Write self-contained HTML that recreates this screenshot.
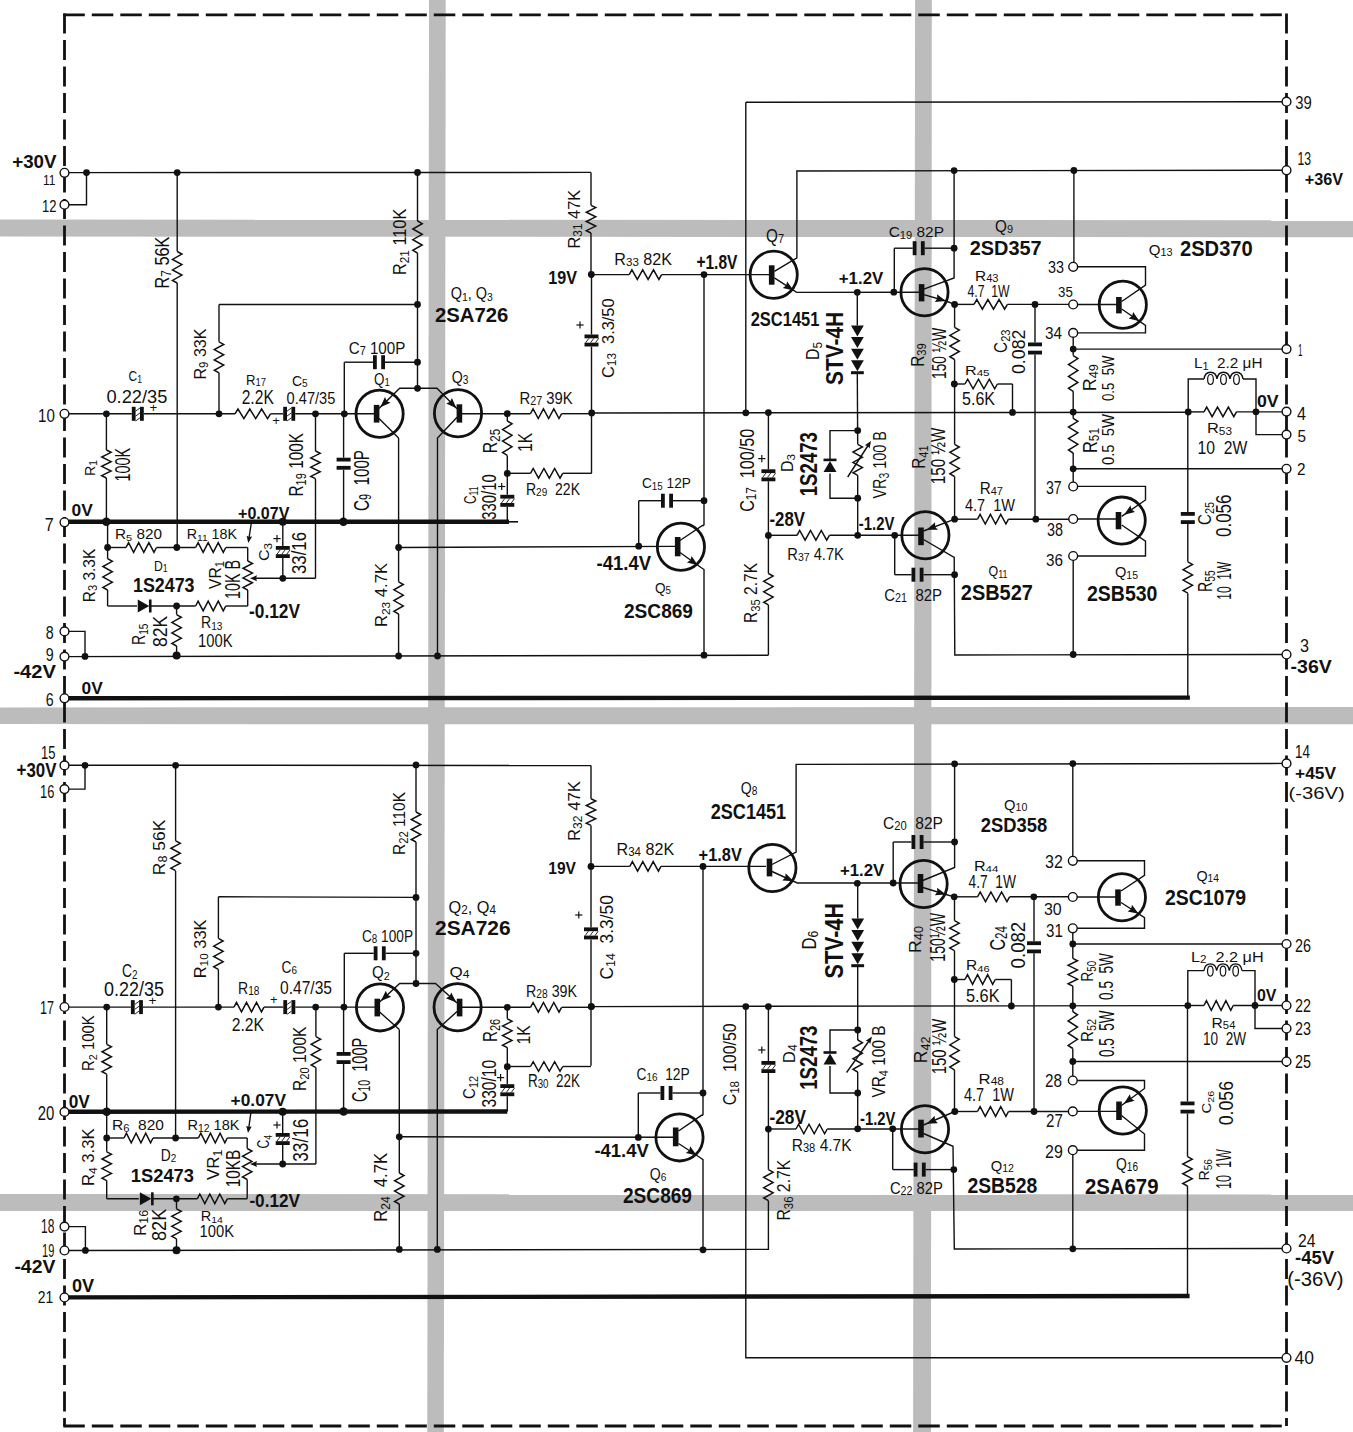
<!DOCTYPE html><html><head><meta charset="utf-8"><title>Schematic</title><style>html,body{margin:0;padding:0;background:#fff;}svg{display:block;}.d{fill:#111;stroke:none;}.n{fill:#fff;stroke:#111;stroke-width:1.4;}text{font-family:"Liberation Sans",sans-serif;}.t{font-weight:normal;}.b{font-weight:bold;}</style></head><body><svg width="1353" height="1432" viewBox="0 0 1353 1432"><polygon points="0,219.5 1353,220.2 1353,237.2 0,236.6" fill="#bcbcbc"/><polygon points="0,707.4 1353,707.0 1353,724.3 0,724.1" fill="#bcbcbc"/><polygon points="0,1193.9 1353,1194.5 1353,1211.0 0,1211.0" fill="#bcbcbc"/><polygon points="429.0,0 445.7,0 443.8,1432 427.3,1432" fill="#bcbcbc"/><polygon points="915.1,0 931.8,0 931.0,1432 913.1,1432" fill="#bcbcbc"/><g stroke="#111" fill="none" stroke-linecap="butt" stroke-linejoin="miter"><path d="M63.3,14.8 H1286.5" stroke-width="2.8" stroke-dasharray="21.5 7"/><path d="M64.5,13.600000000000001 V1426" stroke-width="2.8" stroke-dasharray="20 6.5"/><path d="M1286.5,13.600000000000001 V1426" stroke-width="2.8" stroke-dasharray="20 6.5"/><path d="M63.3,1426 H1287.7" stroke-width="2.8" stroke-dasharray="21.5 7"/><line x1="64.5" y1="172.6" x2="591" y2="172.4" stroke-width="1.4"/><line x1="591" y1="172.4" x2="591" y2="205.3" stroke-width="1.4"/><polyline points="591,205.3 595.7,207.61 586.3,212.23 595.7,216.84 586.3,221.46 595.7,226.07 586.3,230.69 591,233" stroke-width="1.5"/><line x1="591" y1="233" x2="591" y2="274.5" stroke-width="1.4"/><polyline points="64.5,204.7 86.5,204.7 86.5,172.6" stroke-width="1.4"/><circle cx="86.5" cy="172.6" r="3.4" class="d"/><line x1="177.2" y1="172.6" x2="177.2" y2="251.5" stroke-width="1.4"/><polyline points="177.2,251.5 181.9,254.12 172.5,259.38 181.9,264.62 172.5,269.88 181.9,275.12 172.5,280.38 177.2,283" stroke-width="1.5"/><line x1="177.2" y1="283" x2="177.2" y2="547.5" stroke-width="1.4"/><circle cx="177.2" cy="172.6" r="3.4" class="d"/><circle cx="176.8" cy="547.5" r="3.4" class="d"/><line x1="417.5" y1="172.5" x2="417.5" y2="221" stroke-width="1.4"/><polyline points="417.5,221 422.2,223.67 412.8,229 422.2,234.33 412.8,239.67 422.2,245 412.8,250.33 417.5,253" stroke-width="1.5"/><line x1="417.5" y1="253" x2="417.5" y2="388.3" stroke-width="1.4"/><circle cx="417.5" cy="172.5" r="3.4" class="d"/><circle cx="417.5" cy="304.5" r="3.4" class="d"/><circle cx="417.5" cy="362.2" r="3.4" class="d"/><circle cx="417.5" cy="388.3" r="3.4" class="d"/><line x1="219" y1="304.5" x2="219" y2="341.8" stroke-width="1.4"/><polyline points="219,341.8 223.7,344.38 214.3,349.55 223.7,354.72 214.3,359.88 223.7,365.05 214.3,370.22 219,372.8" stroke-width="1.5"/><line x1="219" y1="372.8" x2="219" y2="413.8" stroke-width="1.4"/><line x1="219" y1="304.5" x2="417.5" y2="304.5" stroke-width="1.4"/><circle cx="219" cy="413.8" r="3.4" class="d"/><rect x="373" y="355.2" width="3.8" height="14" class="d"/><rect x="381.2" y="355.2" width="3.8" height="14" class="d"/><line x1="344.3" y1="362.2" x2="373" y2="362.2" stroke-width="1.4"/><line x1="385" y1="362.2" x2="417.5" y2="362.2" stroke-width="1.4"/><line x1="344.3" y1="362.2" x2="344.3" y2="413.8" stroke-width="1.4"/><rect x="131.8" y="406.8" width="3.8" height="14" class="d"/><rect x="140" y="406.8" width="3.8" height="14" class="d"/><line x1="135.6" y1="411.2" x2="140" y2="408" stroke-width="0.9"/><line x1="135.6" y1="416.1" x2="140" y2="412.9" stroke-width="0.9"/><line x1="135.6" y1="421" x2="140" y2="417.8" stroke-width="0.9"/><line x1="64.5" y1="413.8" x2="131.8" y2="413.8" stroke-width="1.4"/><line x1="143.8" y1="413.8" x2="235" y2="413.8" stroke-width="1.4"/><polyline points="235,413.8 237.96,409 243.88,418.6 249.79,409 255.71,418.6 261.62,409 267.54,418.6 270.5,413.8" stroke-width="1.5"/><rect x="283.2" y="406.8" width="3.8" height="14" class="d"/><rect x="291.4" y="406.8" width="3.8" height="14" class="d"/><line x1="287" y1="411.2" x2="291.4" y2="408" stroke-width="0.9"/><line x1="287" y1="416.1" x2="291.4" y2="412.9" stroke-width="0.9"/><line x1="287" y1="421" x2="291.4" y2="417.8" stroke-width="0.9"/><line x1="270.5" y1="413.8" x2="283.2" y2="413.8" stroke-width="1.4"/><line x1="295.2" y1="413.8" x2="375" y2="413.8" stroke-width="1.4"/><circle cx="106.4" cy="413.8" r="3.4" class="d"/><circle cx="315.5" cy="413.8" r="3.4" class="d"/><circle cx="344.3" cy="413.8" r="3.4" class="d"/><line x1="106.4" y1="413.8" x2="106.4" y2="450" stroke-width="1.4"/><polyline points="106.4,450 111.1,452.33 101.7,457 111.1,461.67 101.7,466.33 111.1,471 101.7,475.67 106.4,478" stroke-width="1.5"/><line x1="106.4" y1="478" x2="106.4" y2="522.3" stroke-width="1.4"/><line x1="64.5" y1="521.8" x2="509" y2="521.8" stroke-width="4.4"/><line x1="509" y1="521.8" x2="518" y2="521.8" stroke-width="1.6"/><circle cx="106.3" cy="521.8" r="4.3" class="d"/><circle cx="282.8" cy="521.8" r="4" class="d"/><circle cx="343.4" cy="521.8" r="4.3" class="d"/><line x1="107.6" y1="521.8" x2="107.6" y2="558.7" stroke-width="1.4"/><polyline points="107.6,558.7 112.3,561.31 102.9,566.53 112.3,571.74 102.9,576.96 112.3,582.17 102.9,587.39 107.6,590" stroke-width="1.5"/><line x1="107.6" y1="590" x2="107.6" y2="606" stroke-width="1.4"/><circle cx="107.6" cy="547.5" r="3.4" class="d"/><line x1="107.6" y1="547.5" x2="126" y2="547.5" stroke-width="1.4"/><polyline points="126,547.5 128.54,542.7 133.62,552.3 138.71,542.7 143.79,552.3 148.88,542.7 153.96,552.3 156.5,547.5" stroke-width="1.5"/><line x1="156.5" y1="547.5" x2="195.6" y2="547.5" stroke-width="1.4"/><polyline points="195.6,547.5 198.12,542.7 203.15,552.3 208.18,542.7 213.22,552.3 218.25,542.7 223.28,552.3 225.8,547.5" stroke-width="1.5"/><line x1="225.8" y1="547.5" x2="247.7" y2="547.5" stroke-width="1.4"/><line x1="107.6" y1="606" x2="137" y2="606" stroke-width="1.4"/><line x1="150.5" y1="606" x2="195.6" y2="606" stroke-width="1.4"/><polyline points="195.6,606 198.12,601.2 203.15,610.8 208.18,601.2 213.22,610.8 218.25,601.2 223.28,610.8 225.8,606" stroke-width="1.5"/><line x1="225.8" y1="606" x2="247.7" y2="606" stroke-width="1.4"/><polygon points="137.75,599.5 137.75,612.5 149.25,606" class="d"/><rect x="148.95" y="599.5" width="2.6" height="13" class="d"/><circle cx="176.6" cy="606" r="3.4" class="d"/><line x1="247.7" y1="547.5" x2="247.7" y2="561" stroke-width="1.4"/><polyline points="247.7,561 252.4,563.42 243,568.25 252.4,573.08 243,577.92 252.4,582.75 243,587.58 247.7,590" stroke-width="1.5"/><line x1="247.7" y1="590" x2="247.7" y2="606" stroke-width="1.4"/><polygon points="250,578.2 257,575.2 256.02,578.2 257,581.2" class="d"/><line x1="254" y1="578.3" x2="315.5" y2="578.3" stroke-width="1.4"/><circle cx="282.8" cy="578.3" r="3.4" class="d"/><line x1="251.5" y1="522" x2="248.5" y2="541" stroke-width="1.4"/><polygon points="248.3,543 246.59,535.66 249.21,537.05 252.12,536.5" class="d"/><rect x="275.8" y="546" width="14" height="3.8" class="d"/><rect x="275.8" y="554.2" width="14" height="3.8" class="d"/><line x1="277" y1="554.2" x2="280.2" y2="549.8" stroke-width="0.9"/><line x1="281.9" y1="554.2" x2="285.1" y2="549.8" stroke-width="0.9"/><line x1="286.8" y1="554.2" x2="290" y2="549.8" stroke-width="0.9"/><line x1="282.8" y1="521.8" x2="282.8" y2="546" stroke-width="1.4"/><line x1="282.8" y1="558" x2="282.8" y2="578.3" stroke-width="1.4"/><line x1="315.5" y1="413.8" x2="315.5" y2="451" stroke-width="1.4"/><polyline points="315.5,451 320.2,453.31 310.8,457.93 320.2,462.54 310.8,467.16 320.2,471.77 310.8,476.39 315.5,478.7" stroke-width="1.5"/><line x1="315.5" y1="478.7" x2="315.5" y2="578.3" stroke-width="1.4"/><rect x="336.6" y="457.7" width="14" height="3.8" class="d"/><rect x="336.6" y="465.9" width="14" height="3.8" class="d"/><line x1="343.6" y1="413.8" x2="343.6" y2="457.7" stroke-width="1.4"/><line x1="343.6" y1="469.7" x2="343.6" y2="521.8" stroke-width="1.4"/><line x1="176.6" y1="606" x2="176.6" y2="614.6" stroke-width="1.4"/><polyline points="176.6,614.6 181.3,617.22 171.9,622.45 181.3,627.68 171.9,632.92 181.3,638.15 171.9,643.38 176.6,646" stroke-width="1.5"/><line x1="176.6" y1="646" x2="176.6" y2="655" stroke-width="1.4"/><circle cx="176.6" cy="655.4" r="4" class="d"/><polyline points="64.5,631.4 85,631.4 85,656.4" stroke-width="1.4"/><circle cx="85" cy="656.4" r="3.4" class="d"/><line x1="64.5" y1="656.6" x2="768.4" y2="655.2" stroke-width="1.4"/><line x1="64.5" y1="698.2" x2="1189.9" y2="697.6" stroke-width="4.4"/><circle cx="379.6" cy="413.7" r="23.6" fill="none" stroke-width="2.8"/><rect x="373.8" y="404.9" width="5.6" height="17.7" class="d"/><polyline points="379,408.4 399.7,388.3 437,388.3 457,408.8" stroke-width="1.4"/><polygon points="380.24,407.19 384.99,397.01 386.72,400.9 390.56,402.75" class="d"/><polygon points="456.4,408.19 446.2,403.46 450.09,401.72 451.93,397.88" class="d"/><line x1="379" y1="418.5" x2="398.6" y2="438" stroke-width="1.4"/><line x1="398.6" y1="438" x2="398.6" y2="581.8" stroke-width="1.4"/><polyline points="398.6,581.8 403.3,584.48 393.9,589.85 403.3,595.22 393.9,600.58 403.3,605.95 393.9,611.32 398.6,614" stroke-width="1.5"/><line x1="398.6" y1="614" x2="398.6" y2="656" stroke-width="1.4"/><circle cx="398.6" cy="547.5" r="3.4" class="d"/><circle cx="398.6" cy="656" r="3.4" class="d"/><circle cx="458" cy="413.3" r="23.6" fill="none" stroke-width="2.8"/><rect x="456.6" y="404.3" width="5.6" height="18.3" class="d"/><polyline points="457,417.3 437.5,438 437.5,656" stroke-width="1.4"/><circle cx="437.5" cy="656" r="3.4" class="d"/><line x1="461.5" y1="413.7" x2="530.5" y2="413.7" stroke-width="1.4"/><polyline points="530.5,413.7 533.09,408.9 538.27,418.5 543.46,408.9 548.64,418.5 553.83,408.9 559.01,418.5 561.6,413.7" stroke-width="1.5"/><line x1="561.6" y1="413.7" x2="591.7" y2="413.7" stroke-width="1.4"/><circle cx="507.3" cy="413.7" r="3.4" class="d"/><circle cx="591.7" cy="413" r="3.4" class="d"/><line x1="591.7" y1="413" x2="1188.2" y2="412.2" stroke-width="1.4"/><line x1="1188.2" y1="411.9" x2="1204" y2="411.9" stroke-width="1.4"/><polyline points="1204,411.9 1206.71,407.1 1212.12,416.7 1217.54,407.1 1222.96,416.7 1228.38,407.1 1233.79,416.7 1236.5,411.9" stroke-width="1.5"/><line x1="1236.5" y1="411.9" x2="1286.5" y2="411.9" stroke-width="1.4"/><line x1="507.3" y1="413.7" x2="507.3" y2="421" stroke-width="1.4"/><polyline points="507.3,421 512,423.87 502.6,429.6 512,435.33 502.6,441.07 512,446.8 502.6,452.53 507.3,455.4" stroke-width="1.5"/><rect x="500.3" y="494.8" width="14" height="3.8" class="d"/><rect x="500.3" y="503" width="14" height="3.8" class="d"/><line x1="501.5" y1="503" x2="504.7" y2="498.6" stroke-width="0.9"/><line x1="506.4" y1="503" x2="509.6" y2="498.6" stroke-width="0.9"/><line x1="511.3" y1="503" x2="514.5" y2="498.6" stroke-width="0.9"/><line x1="507.3" y1="455.4" x2="507.3" y2="494.8" stroke-width="1.4"/><line x1="507.3" y1="506.8" x2="507.3" y2="521.8" stroke-width="1.4"/><circle cx="507.3" cy="473.4" r="3.4" class="d"/><line x1="507.3" y1="473.3" x2="530.5" y2="473.3" stroke-width="1.4"/><polyline points="530.5,473.3 533.18,468.5 538.55,478.1 543.92,468.5 549.28,478.1 554.65,468.5 560.02,478.1 562.7,473.3" stroke-width="1.5"/><line x1="562.7" y1="473.3" x2="591.7" y2="473.3" stroke-width="1.4"/><rect x="584.5" y="334.5" width="14" height="3.8" class="d"/><rect x="584.5" y="342.7" width="14" height="3.8" class="d"/><line x1="585.7" y1="342.7" x2="588.9" y2="338.3" stroke-width="0.9"/><line x1="590.6" y1="342.7" x2="593.8" y2="338.3" stroke-width="0.9"/><line x1="595.5" y1="342.7" x2="598.7" y2="338.3" stroke-width="0.9"/><line x1="591.5" y1="274.5" x2="591.5" y2="334.5" stroke-width="1.4"/><line x1="591.5" y1="346.5" x2="591.5" y2="473.3" stroke-width="1.4"/><circle cx="591.3" cy="274.5" r="3.4" class="d"/><line x1="591.3" y1="274.6" x2="629.2" y2="274.6" stroke-width="1.4"/><polyline points="629.2,274.6 631.9,269.8 637.3,279.4 642.7,269.8 648.1,279.4 653.5,269.8 658.9,279.4 661.6,274.6" stroke-width="1.5"/><line x1="661.6" y1="274.6" x2="769.5" y2="274.6" stroke-width="1.4"/><circle cx="704" cy="274.6" r="3.4" class="d"/><line x1="704" y1="274.6" x2="704" y2="525.5" stroke-width="1.4"/><circle cx="704" cy="500.7" r="3.4" class="d"/><rect x="661" y="493.7" width="3.8" height="14" class="d"/><rect x="669.2" y="493.7" width="3.8" height="14" class="d"/><line x1="638.7" y1="500.7" x2="661" y2="500.7" stroke-width="1.4"/><line x1="673" y1="500.7" x2="704" y2="500.7" stroke-width="1.4"/><line x1="638.7" y1="500.7" x2="638.7" y2="546.2" stroke-width="1.4"/><circle cx="638.7" cy="546.2" r="3.4" class="d"/><line x1="398.6" y1="547.5" x2="675" y2="546.4" stroke-width="1.4"/><circle cx="680.9" cy="546.7" r="23.6" fill="none" stroke-width="2.8"/><rect x="674.9" y="537" width="5.6" height="19.3" class="d"/><polyline points="680,540.5 702.5,525.5 704,525.5" stroke-width="1.4"/><polyline points="680,552.5 701,567.5 704,569.5 704,655.2" stroke-width="1.4"/><circle cx="704" cy="655.2" r="3.4" class="d"/><polygon points="697.85,565.25 686.98,562.4 690.5,560 691.63,555.89" class="d"/><line x1="745.8" y1="102.2" x2="745.8" y2="412.8" stroke-width="1.4"/><line x1="745.8" y1="102.2" x2="1286.5" y2="101.7" stroke-width="1.4"/><circle cx="745.8" cy="412.8" r="3.4" class="d"/><rect x="761.4" y="469.3" width="14" height="3.8" class="d"/><rect x="761.4" y="477.5" width="14" height="3.8" class="d"/><line x1="762.6" y1="477.5" x2="765.8" y2="473.1" stroke-width="0.9"/><line x1="767.5" y1="477.5" x2="770.7" y2="473.1" stroke-width="0.9"/><line x1="772.4" y1="477.5" x2="775.6" y2="473.1" stroke-width="0.9"/><line x1="768.4" y1="412.6" x2="768.4" y2="469.3" stroke-width="1.4"/><line x1="768.4" y1="481.3" x2="768.4" y2="573.5" stroke-width="1.4"/><polyline points="768.4,573.5 773.1,576.12 763.7,581.35 773.1,586.58 763.7,591.82 773.1,597.05 763.7,602.28 768.4,604.9" stroke-width="1.5"/><line x1="768.4" y1="604.9" x2="768.4" y2="655.2" stroke-width="1.4"/><circle cx="768.4" cy="412.6" r="3.4" class="d"/><circle cx="768.4" cy="535.5" r="3.4" class="d"/><line x1="768.4" y1="535.3" x2="797" y2="535.3" stroke-width="1.4"/><polyline points="797,535.3 799.7,530.5 805.1,540.1 810.5,530.5 815.9,540.1 821.3,530.5 826.7,540.1 829.4,535.3" stroke-width="1.5"/><line x1="829.4" y1="535.3" x2="920" y2="535.3" stroke-width="1.4"/><circle cx="857.7" cy="535.3" r="3.4" class="d"/><circle cx="894.7" cy="535.3" r="3.4" class="d"/><circle cx="773.7" cy="274.8" r="23.6" fill="none" stroke-width="2.8"/><rect x="768.9" y="265.3" width="5.6" height="19.4" class="d"/><polyline points="774.4,271.3 796.9,257.8 796.9,171 1286.5,170.2" stroke-width="1.4"/><circle cx="954.1" cy="170.6" r="3.4" class="d"/><circle cx="1073.9" cy="170.5" r="3.4" class="d"/><polyline points="774.4,277.8 796.6,292.4 921,292.2" stroke-width="1.4"/><polygon points="793.71,290.5 782.74,288.07 786.17,285.54 787.14,281.39" class="d"/><circle cx="857.3" cy="292.3" r="3.4" class="d"/><circle cx="893.8" cy="292.2" r="3.4" class="d"/><rect x="912.7" y="241.2" width="3.8" height="14" class="d"/><rect x="920.9" y="241.2" width="3.8" height="14" class="d"/><line x1="894.3" y1="248.2" x2="912.7" y2="248.2" stroke-width="1.4"/><line x1="924.7" y1="248.2" x2="954.1" y2="248.2" stroke-width="1.4"/><line x1="894.3" y1="248.2" x2="894.3" y2="292.2" stroke-width="1.4"/><circle cx="954.1" cy="248.2" r="3.4" class="d"/><polyline points="954.1,170.6 954.1,278 923.8,289.1" stroke-width="1.4"/><circle cx="924.5" cy="292.2" r="23.6" fill="none" stroke-width="2.8"/><rect x="918.8" y="284.1" width="5.6" height="17.3" class="d"/><polyline points="923.8,294.7 946,301 954.6,304.4" stroke-width="1.4"/><polygon points="946,301 934.81,301.98 937.31,298.53 936.99,294.29" class="d"/><line x1="857.3" y1="292.3" x2="857.3" y2="325.5" stroke-width="1.4"/><line x1="857.3" y1="373" x2="857.7" y2="444.3" stroke-width="1.4"/><line x1="857.7" y1="475.3" x2="857.7" y2="535.3" stroke-width="1.4"/><polygon points="851,325.5 863.8,325.5 857.4,336.5" class="d"/><polygon points="851,337.1 863.8,337.1 857.4,348.1" class="d"/><polygon points="851,348.7 863.8,348.7 857.4,359.7" class="d"/><polygon points="851,360.3 863.8,360.3 857.4,371.3" class="d"/><rect x="851" y="371.2" width="12.8" height="3" class="d"/><polyline points="857.7,430.6 830,430.6 830,459.5" stroke-width="1.4"/><polyline points="830,473.5 830,498.2 857.7,498.2" stroke-width="1.4"/><polygon points="823.5,471.9 836.5,471.9 830,460.9" class="d"/><rect x="823.5" y="458.6" width="13" height="2.6" class="d"/><circle cx="857.7" cy="430.6" r="3.4" class="d"/><circle cx="857.7" cy="498.2" r="3.4" class="d"/><polyline points="857.7,444.3 862.4,446.88 853,452.05 862.4,457.22 853,462.38 862.4,467.55 853,472.72 857.7,475.3" stroke-width="1.5"/><line x1="847.7" y1="477" x2="869" y2="444" stroke-width="1.4"/><polygon points="871,441 869.55,448.4 867.73,446.05 864.85,445.36" class="d"/><line x1="954.6" y1="304.4" x2="974" y2="304.4" stroke-width="1.4"/><polyline points="974,304.4 976.78,299.6 982.35,309.2 987.92,299.6 993.48,309.2 999.05,299.6 1004.62,309.2 1007.4,304.4" stroke-width="1.5"/><line x1="1007.4" y1="304.4" x2="1073.2" y2="304.4" stroke-width="1.4"/><circle cx="954.6" cy="304.4" r="3.4" class="d"/><circle cx="1035" cy="304.4" r="3.4" class="d"/><line x1="954.6" y1="304.4" x2="954.6" y2="327.4" stroke-width="1.4"/><polyline points="954.6,327.4 959.3,330.07 949.9,335.42 959.3,340.77 949.9,346.12 959.3,351.48 949.9,356.82 954.6,359.5" stroke-width="1.5"/><line x1="954.6" y1="359.5" x2="954.6" y2="444.3" stroke-width="1.4"/><polyline points="954.6,444.3 959.3,446.98 949.9,452.35 959.3,457.72 949.9,463.08 959.3,468.45 949.9,473.82 954.6,476.5" stroke-width="1.5"/><line x1="954.6" y1="476.5" x2="954.6" y2="519.2" stroke-width="1.4"/><circle cx="954.3" cy="384" r="3.4" class="d"/><line x1="954.3" y1="384" x2="965" y2="384" stroke-width="1.4"/><polyline points="965,384 967.7,379.2 973.1,388.8 978.5,379.2 983.9,388.8 989.3,379.2 994.7,388.8 997.4,384" stroke-width="1.5"/><line x1="997.4" y1="384" x2="1012.5" y2="384" stroke-width="1.4"/><line x1="1012.5" y1="384" x2="1012.5" y2="412.4" stroke-width="1.4"/><circle cx="1012.5" cy="412.4" r="3.4" class="d"/><rect x="1028" y="342.5" width="14" height="3.8" class="d"/><rect x="1028" y="350.7" width="14" height="3.8" class="d"/><line x1="1035" y1="304.4" x2="1035" y2="342.5" stroke-width="1.4"/><line x1="1035" y1="354.5" x2="1035" y2="519.2" stroke-width="1.4"/><line x1="1073.9" y1="170.5" x2="1073.9" y2="266.8" stroke-width="1.4"/><polyline points="1073.9,266.8 1145.5,266.8 1145.5,285.2 1121.7,301.5" stroke-width="1.4"/><circle cx="1122.8" cy="304.7" r="23.6" fill="none" stroke-width="2.8"/><rect x="1116.1" y="297" width="5.6" height="16.4" class="d"/><line x1="1073.2" y1="304.5" x2="1117" y2="304.5" stroke-width="1.4"/><polyline points="1121.7,309 1145.5,325.3 1145.5,332.9 1073.2,332.9" stroke-width="1.4"/><polygon points="1139.55,321.23 1128.63,318.59 1132.1,316.12 1133.15,311.99" class="d"/><line x1="1073.2" y1="332.9" x2="1073.2" y2="355.6" stroke-width="1.4"/><polyline points="1073.2,355.6 1077.9,358.58 1068.5,364.53 1077.9,370.48 1068.5,376.43 1077.9,382.38 1068.5,388.32 1073.2,391.3" stroke-width="1.5"/><line x1="1073.2" y1="391.3" x2="1073.2" y2="418.4" stroke-width="1.4"/><polyline points="1073.2,418.4 1077.9,421.28 1068.5,427.05 1077.9,432.82 1068.5,438.58 1077.9,444.35 1068.5,450.12 1073.2,453" stroke-width="1.5"/><line x1="1073.2" y1="453" x2="1073.2" y2="486.5" stroke-width="1.4"/><circle cx="1073.2" cy="349.1" r="3.4" class="d"/><circle cx="1073.2" cy="412.1" r="3.4" class="d"/><circle cx="1073.2" cy="468.8" r="3.4" class="d"/><line x1="1073.2" y1="349.1" x2="1286.5" y2="349.1" stroke-width="1.4"/><line x1="1073.2" y1="468.8" x2="1286.5" y2="468.8" stroke-width="1.4"/><circle cx="925.4" cy="535.2" r="23.6" fill="none" stroke-width="2.8"/><rect x="918.2" y="527.5" width="5.6" height="17.7" class="d"/><line x1="923.5" y1="531" x2="954.8" y2="519.2" stroke-width="1.4"/><polygon points="926.63,529.82 935.04,522.37 935.08,526.63 937.87,529.86" class="d"/><polyline points="923.5,539.5 954.2,557.4 954.8,655 1286.5,654.5" stroke-width="1.4"/><circle cx="1073.2" cy="654.5" r="3.4" class="d"/><line x1="894.7" y1="535.3" x2="894.7" y2="574.7" stroke-width="1.4"/><rect x="911.5" y="567.7" width="3.8" height="14" class="d"/><rect x="919.7" y="567.7" width="3.8" height="14" class="d"/><line x1="894.7" y1="574.7" x2="911.5" y2="574.7" stroke-width="1.4"/><line x1="923.5" y1="574.7" x2="954.6" y2="574.7" stroke-width="1.4"/><circle cx="954.6" cy="574.7" r="3.4" class="d"/><line x1="954.6" y1="519.2" x2="977.5" y2="519.2" stroke-width="1.4"/><polyline points="977.5,519.2 980.08,514.4 985.25,524 990.42,514.4 995.58,524 1000.75,514.4 1005.92,524 1008.5,519.2" stroke-width="1.5"/><line x1="1008.5" y1="519.2" x2="1073.2" y2="519.2" stroke-width="1.4"/><circle cx="954.6" cy="519.2" r="3.4" class="d"/><circle cx="1035.8" cy="519.2" r="3.4" class="d"/><polyline points="1073.2,486.4 1145.5,486.4 1145.5,500 1121.7,516.3" stroke-width="1.4"/><polygon points="1124.08,514.67 1130.48,505.44 1131.53,509.57 1135,512.04" class="d"/><circle cx="1121.7" cy="520.6" r="23.6" fill="none" stroke-width="2.8"/><rect x="1115.7" y="512" width="5.6" height="17.3" class="d"/><line x1="1073.2" y1="519" x2="1116" y2="519" stroke-width="1.4"/><polyline points="1121.7,525 1145.5,541.2 1145.5,556 1073.2,556" stroke-width="1.4"/><line x1="1073.2" y1="556" x2="1073.2" y2="654.5" stroke-width="1.4"/><circle cx="1188.2" cy="412" r="3.4" class="d"/><circle cx="1256" cy="411.8" r="3.4" class="d"/><polyline points="1188.2,412 1188.2,379 1204,379" stroke-width="1.4"/><path d="M1204,379 C1205.3,370 1215.7,370 1217,379 C1218.3,370 1228.7,370 1230,379 C1231.3,370 1241.7,370 1243,379" fill="none" stroke-width="1.4"/><ellipse cx="1210.5" cy="379.5" rx="2.86" ry="5" fill="none" stroke-width="1.2"/><ellipse cx="1223.5" cy="379.5" rx="2.86" ry="5" fill="none" stroke-width="1.2"/><ellipse cx="1236.5" cy="379.5" rx="2.86" ry="5" fill="none" stroke-width="1.2"/><polyline points="1243,379 1256,379 1256,411.8" stroke-width="1.4"/><polyline points="1256,411.8 1256,434.6 1286.5,434.6" stroke-width="1.4"/><rect x="1180.8" y="512" width="14" height="3.8" class="d"/><rect x="1180.8" y="520.2" width="14" height="3.8" class="d"/><line x1="1187.8" y1="412" x2="1187.8" y2="512" stroke-width="1.4"/><line x1="1187.8" y1="524" x2="1187.8" y2="561.8" stroke-width="1.4"/><polyline points="1187.8,561.8 1192.5,564.42 1183.1,569.65 1192.5,574.88 1183.1,580.12 1192.5,585.35 1183.1,590.58 1187.8,593.2" stroke-width="1.5"/><line x1="1187.8" y1="593.2" x2="1187.8" y2="697.6" stroke-width="1.4"/><line x1="576.4" y1="325" x2="583.6" y2="325" stroke-width="1.2"/><line x1="580" y1="321.4" x2="580" y2="328.6" stroke-width="1.2"/><line x1="758.2" y1="458.6" x2="765.4" y2="458.6" stroke-width="1.2"/><line x1="761.8" y1="455" x2="761.8" y2="462.2" stroke-width="1.2"/><line x1="498.1" y1="486.5" x2="505.3" y2="486.5" stroke-width="1.2"/><line x1="501.7" y1="482.9" x2="501.7" y2="490.1" stroke-width="1.2"/><line x1="273.4" y1="538.6" x2="280.6" y2="538.6" stroke-width="1.2"/><line x1="277" y1="535" x2="277" y2="542.2" stroke-width="1.2"/><line x1="64.5" y1="765.2" x2="591" y2="765.5" stroke-width="1.4"/><line x1="591" y1="765.5" x2="591" y2="798.8" stroke-width="1.4"/><polyline points="591,798.8 595.7,801.02 586.3,805.45 595.7,809.88 586.3,814.32 595.7,818.75 586.3,823.18 591,825.4" stroke-width="1.5"/><rect x="584" y="927.4" width="14" height="3.8" class="d"/><rect x="584" y="935.6" width="14" height="3.8" class="d"/><line x1="585.2" y1="935.6" x2="588.4" y2="931.2" stroke-width="0.9"/><line x1="590.1" y1="935.6" x2="593.3" y2="931.2" stroke-width="0.9"/><line x1="595" y1="935.6" x2="598.2" y2="931.2" stroke-width="0.9"/><line x1="591" y1="825.4" x2="591" y2="927.4" stroke-width="1.4"/><line x1="591" y1="939.4" x2="591" y2="1065.8" stroke-width="1.4"/><circle cx="591" cy="866.4" r="3.4" class="d"/><circle cx="591.3" cy="1006.6" r="3.4" class="d"/><polyline points="64.5,789.1 85,789.1 85,765.3" stroke-width="1.4"/><circle cx="85" cy="765.3" r="3.4" class="d"/><line x1="175.6" y1="765.3" x2="175.6" y2="840.8" stroke-width="1.4"/><polyline points="175.6,840.8 180.3,843.29 170.9,848.27 180.3,853.26 170.9,858.24 180.3,863.23 170.9,868.21 175.6,870.7" stroke-width="1.5"/><line x1="175.6" y1="870.7" x2="175.6" y2="1138" stroke-width="1.4"/><circle cx="175.6" cy="765.3" r="3.4" class="d"/><circle cx="175.6" cy="1138" r="3.4" class="d"/><line x1="416" y1="764.9" x2="416" y2="812" stroke-width="1.4"/><polyline points="416,812 420.7,814.5 411.3,819.5 420.7,824.5 411.3,829.5 420.7,834.5 411.3,839.5 416,842" stroke-width="1.5"/><line x1="416" y1="842" x2="416" y2="983.5" stroke-width="1.4"/><circle cx="416" cy="764.9" r="3.4" class="d"/><circle cx="416" cy="897.4" r="3.4" class="d"/><circle cx="416" cy="953.3" r="3.4" class="d"/><circle cx="416" cy="983.5" r="3.4" class="d"/><line x1="218.4" y1="896.8" x2="218.4" y2="938.4" stroke-width="1.4"/><polyline points="218.4,938.4 223.1,940.98 213.7,946.15 223.1,951.32 213.7,956.48 223.1,961.65 213.7,966.82 218.4,969.4" stroke-width="1.5"/><line x1="218.4" y1="969.4" x2="218.4" y2="1007.1" stroke-width="1.4"/><line x1="218.4" y1="896.8" x2="416" y2="897.4" stroke-width="1.4"/><circle cx="218.4" cy="1007.1" r="3.4" class="d"/><rect x="373.7" y="946.3" width="3.8" height="14" class="d"/><rect x="381.9" y="946.3" width="3.8" height="14" class="d"/><line x1="344.3" y1="953.3" x2="373.7" y2="953.3" stroke-width="1.4"/><line x1="385.7" y1="953.3" x2="416" y2="953.3" stroke-width="1.4"/><line x1="344.3" y1="953.3" x2="344.3" y2="1007.1" stroke-width="1.4"/><rect x="130.9" y="1000.1" width="3.8" height="14" class="d"/><rect x="139.1" y="1000.1" width="3.8" height="14" class="d"/><line x1="134.7" y1="1004.5" x2="139.1" y2="1001.3" stroke-width="0.9"/><line x1="134.7" y1="1009.4" x2="139.1" y2="1006.2" stroke-width="0.9"/><line x1="134.7" y1="1014.3" x2="139.1" y2="1011.1" stroke-width="0.9"/><line x1="64.5" y1="1007.1" x2="130.9" y2="1007.1" stroke-width="1.4"/><line x1="142.9" y1="1007.1" x2="234" y2="1007.1" stroke-width="1.4"/><polyline points="234,1007.1 236.5,1002.3 241.5,1011.9 246.5,1002.3 251.5,1011.9 256.5,1002.3 261.5,1011.9 264,1007.1" stroke-width="1.5"/><rect x="283.3" y="1000.1" width="3.8" height="14" class="d"/><rect x="291.5" y="1000.1" width="3.8" height="14" class="d"/><line x1="287.1" y1="1004.5" x2="291.5" y2="1001.3" stroke-width="0.9"/><line x1="287.1" y1="1009.4" x2="291.5" y2="1006.2" stroke-width="0.9"/><line x1="287.1" y1="1014.3" x2="291.5" y2="1011.1" stroke-width="0.9"/><line x1="264" y1="1007.1" x2="283.3" y2="1007.1" stroke-width="1.4"/><line x1="295.3" y1="1007.1" x2="375.5" y2="1007.1" stroke-width="1.4"/><circle cx="106.7" cy="1007.1" r="3.4" class="d"/><circle cx="315.7" cy="1007.1" r="3.4" class="d"/><circle cx="343.9" cy="1007.1" r="3.4" class="d"/><line x1="106.7" y1="1007.1" x2="106.7" y2="1044.3" stroke-width="1.4"/><polyline points="106.7,1044.3 111.4,1046.79 102,1051.78 111.4,1056.76 102,1061.74 111.4,1066.72 102,1071.71 106.7,1074.2" stroke-width="1.5"/><line x1="106.7" y1="1074.2" x2="106.7" y2="1111.7" stroke-width="1.4"/><line x1="64.5" y1="1111.7" x2="507.3" y2="1111.5" stroke-width="4.4"/><circle cx="106.7" cy="1111.7" r="4.3" class="d"/><circle cx="282.7" cy="1111.7" r="4" class="d"/><circle cx="343.6" cy="1111.5" r="4.3" class="d"/><line x1="106.7" y1="1111.7" x2="106.7" y2="1151.8" stroke-width="1.4"/><polyline points="106.7,1151.8 111.4,1154.2 102,1159 111.4,1163.8 102,1168.6 111.4,1173.4 102,1178.2 106.7,1180.6" stroke-width="1.5"/><line x1="106.7" y1="1180.6" x2="106.7" y2="1198.8" stroke-width="1.4"/><circle cx="106.7" cy="1138" r="3.4" class="d"/><line x1="106.7" y1="1138" x2="124" y2="1138" stroke-width="1.4"/><polyline points="124,1138 126.42,1133.2 131.25,1142.8 136.08,1133.2 140.92,1142.8 145.75,1133.2 150.58,1142.8 153,1138" stroke-width="1.5"/><line x1="153" y1="1138" x2="198.4" y2="1138" stroke-width="1.4"/><polyline points="198.4,1138 200.81,1133.2 205.62,1142.8 210.44,1133.2 215.26,1142.8 220.08,1133.2 224.89,1142.8 227.3,1138" stroke-width="1.5"/><line x1="227.3" y1="1138" x2="247.2" y2="1138" stroke-width="1.4"/><line x1="106.7" y1="1198.8" x2="138.8" y2="1198.8" stroke-width="1.4"/><line x1="152.4" y1="1198.8" x2="197.3" y2="1198.8" stroke-width="1.4"/><polyline points="197.3,1198.8 199.8,1194 204.8,1203.6 209.8,1194 214.8,1203.6 219.8,1194 224.8,1203.6 227.3,1198.8" stroke-width="1.5"/><line x1="227.3" y1="1198.8" x2="247.2" y2="1198.8" stroke-width="1.4"/><polygon points="139.85,1192.3 139.85,1205.3 151.35,1198.8" class="d"/><rect x="151.05" y="1192.3" width="2.6" height="13" class="d"/><circle cx="176.4" cy="1198.8" r="3.4" class="d"/><line x1="247.2" y1="1138" x2="247.2" y2="1148.5" stroke-width="1.4"/><polyline points="247.2,1148.5 251.9,1151.08 242.5,1156.25 251.9,1161.42 242.5,1166.58 251.9,1171.75 242.5,1176.92 247.2,1179.5" stroke-width="1.5"/><line x1="247.2" y1="1179.5" x2="247.2" y2="1198.8" stroke-width="1.4"/><polygon points="250,1164 257,1161 256.02,1164 257,1167" class="d"/><line x1="254" y1="1164" x2="315.9" y2="1164" stroke-width="1.4"/><circle cx="282.7" cy="1164" r="3.4" class="d"/><line x1="251" y1="1112" x2="248.3" y2="1131" stroke-width="1.4"/><polygon points="248,1133 246.22,1125.67 248.85,1127.04 251.76,1126.47" class="d"/><rect x="275.7" y="1133" width="14" height="3.8" class="d"/><rect x="275.7" y="1141.2" width="14" height="3.8" class="d"/><line x1="276.9" y1="1141.2" x2="280.1" y2="1136.8" stroke-width="0.9"/><line x1="281.8" y1="1141.2" x2="285" y2="1136.8" stroke-width="0.9"/><line x1="286.7" y1="1141.2" x2="289.9" y2="1136.8" stroke-width="0.9"/><line x1="282.7" y1="1111.7" x2="282.7" y2="1133" stroke-width="1.4"/><line x1="282.7" y1="1145" x2="282.7" y2="1164" stroke-width="1.4"/><line x1="315.9" y1="1007.1" x2="315.9" y2="1036.6" stroke-width="1.4"/><polyline points="315.9,1036.6 320.6,1039.18 311.2,1044.35 320.6,1049.52 311.2,1054.68 320.6,1059.85 311.2,1065.02 315.9,1067.6" stroke-width="1.5"/><line x1="315.9" y1="1067.6" x2="315.9" y2="1164" stroke-width="1.4"/><rect x="336.6" y="1052" width="14" height="3.8" class="d"/><rect x="336.6" y="1060.2" width="14" height="3.8" class="d"/><line x1="343.6" y1="1007.1" x2="343.6" y2="1052" stroke-width="1.4"/><line x1="343.6" y1="1064" x2="343.6" y2="1111.5" stroke-width="1.4"/><line x1="176.5" y1="1198.8" x2="176.5" y2="1208.8" stroke-width="1.4"/><polyline points="176.5,1208.8 181.2,1211.3 171.8,1216.3 181.2,1221.3 171.8,1226.3 181.2,1231.3 171.8,1236.3 176.5,1238.8" stroke-width="1.5"/><line x1="176.5" y1="1238.8" x2="176.5" y2="1250.3" stroke-width="1.4"/><circle cx="176.5" cy="1250.3" r="4" class="d"/><polyline points="64.5,1226.6 85.4,1226.6 85.4,1250.4" stroke-width="1.4"/><circle cx="85.4" cy="1250.4" r="3.4" class="d"/><line x1="64.5" y1="1250.5" x2="769" y2="1249.4" stroke-width="1.4"/><line x1="64.5" y1="1297.4" x2="1189.6" y2="1296" stroke-width="4.4"/><circle cx="380" cy="1007.4" r="23.6" fill="none" stroke-width="2.8"/><rect x="374.5" y="998.7" width="5.6" height="17.7" class="d"/><polyline points="379.6,1002 399.7,983.5 435.5,983.5 457,1003" stroke-width="1.4"/><polygon points="380.81,1000.89 385.82,990.84 387.45,994.77 391.24,996.72" class="d"/><polygon points="456.36,1002.41 445.89,998.32 449.67,996.35 451.26,992.4" class="d"/><line x1="379.6" y1="1012" x2="399.3" y2="1029.5" stroke-width="1.4"/><line x1="399.3" y1="1029.5" x2="399.3" y2="1173" stroke-width="1.4"/><polyline points="399.3,1173 404,1175.58 394.6,1180.75 404,1185.92 394.6,1191.08 404,1196.25 394.6,1201.42 399.3,1204" stroke-width="1.5"/><line x1="399.3" y1="1204" x2="399.3" y2="1249.4" stroke-width="1.4"/><circle cx="399.3" cy="1136.8" r="3.4" class="d"/><circle cx="399.3" cy="1249.4" r="3.4" class="d"/><circle cx="457.6" cy="1007.3" r="23.6" fill="none" stroke-width="2.8"/><rect x="456.8" y="998.7" width="5.6" height="17.7" class="d"/><polyline points="457,1011.5 437.3,1029.5 437.3,1249.4" stroke-width="1.4"/><circle cx="437.3" cy="1249.4" r="3.4" class="d"/><line x1="461.8" y1="1007.3" x2="530.5" y2="1007.3" stroke-width="1.4"/><polyline points="530.5,1007.3 533.09,1002.5 538.27,1012.1 543.46,1002.5 548.64,1012.1 553.83,1002.5 559.01,1012.1 561.6,1007.3" stroke-width="1.5"/><line x1="561.6" y1="1007.3" x2="591.3" y2="1007.3" stroke-width="1.4"/><circle cx="507.3" cy="1007.3" r="3.4" class="d"/><circle cx="591.3" cy="1006.6" r="3.4" class="d"/><line x1="591.3" y1="1006.6" x2="1188" y2="1005.6" stroke-width="1.4"/><line x1="1188" y1="1005.5" x2="1204" y2="1005.5" stroke-width="1.4"/><polyline points="1204,1005.5 1206.43,1000.7 1211.3,1010.3 1216.17,1000.7 1221.03,1010.3 1225.9,1000.7 1230.77,1010.3 1233.2,1005.5" stroke-width="1.5"/><line x1="1233.2" y1="1005.5" x2="1286.5" y2="1005.5" stroke-width="1.4"/><line x1="507.3" y1="1007.3" x2="507.3" y2="1018.8" stroke-width="1.4"/><polyline points="507.3,1018.8 512,1021.2 502.6,1026 512,1030.8 502.6,1035.6 512,1040.4 502.6,1045.2 507.3,1047.6" stroke-width="1.5"/><rect x="500.3" y="1084.2" width="14" height="3.8" class="d"/><rect x="500.3" y="1092.4" width="14" height="3.8" class="d"/><line x1="501.5" y1="1092.4" x2="504.7" y2="1088" stroke-width="0.9"/><line x1="506.4" y1="1092.4" x2="509.6" y2="1088" stroke-width="0.9"/><line x1="511.3" y1="1092.4" x2="514.5" y2="1088" stroke-width="0.9"/><line x1="507.3" y1="1047.6" x2="507.3" y2="1084.2" stroke-width="1.4"/><line x1="507.3" y1="1096.2" x2="507.3" y2="1111.5" stroke-width="1.4"/><circle cx="507.3" cy="1066.7" r="3.4" class="d"/><line x1="507.3" y1="1066.5" x2="530.5" y2="1066.5" stroke-width="1.4"/><polyline points="530.5,1066.5 533.18,1061.7 538.55,1071.3 543.92,1061.7 549.28,1071.3 554.65,1061.7 560.02,1071.3 562.7,1066.5" stroke-width="1.5"/><line x1="562.7" y1="1066.5" x2="591" y2="1066.5" stroke-width="1.4"/><line x1="591" y1="866.4" x2="629.8" y2="866.4" stroke-width="1.4"/><polyline points="629.8,866.4 632.4,861.6 637.6,871.2 642.8,861.6 648,871.2 653.2,861.6 658.4,871.2 661,866.4" stroke-width="1.5"/><line x1="661" y1="866.4" x2="766" y2="866.4" stroke-width="1.4"/><circle cx="703" cy="866.4" r="3.4" class="d"/><line x1="703" y1="866.4" x2="703" y2="1115.3" stroke-width="1.4"/><circle cx="703" cy="1093" r="3.4" class="d"/><rect x="660.5" y="1086" width="3.8" height="14" class="d"/><rect x="668.7" y="1086" width="3.8" height="14" class="d"/><line x1="638.3" y1="1093" x2="660.5" y2="1093" stroke-width="1.4"/><line x1="672.5" y1="1093" x2="703" y2="1093" stroke-width="1.4"/><line x1="638.3" y1="1093" x2="638.3" y2="1137.4" stroke-width="1.4"/><circle cx="638.3" cy="1137.4" r="3.4" class="d"/><line x1="399.3" y1="1136.8" x2="673" y2="1137.3" stroke-width="1.4"/><circle cx="679.5" cy="1137.4" r="23.6" fill="none" stroke-width="2.8"/><rect x="672.9" y="1127.5" width="5.6" height="18.8" class="d"/><polyline points="678.5,1131 701.5,1115.3 703,1115.3" stroke-width="1.4"/><polyline points="678.5,1143.5 700,1157.5 703,1159.6 703,1249.8" stroke-width="1.4"/><circle cx="703" cy="1249.8" r="3.4" class="d"/><polygon points="696.77,1155.4 685.79,1153.02 689.21,1150.47 690.16,1146.32" class="d"/><polyline points="745.8,1006.6 745.8,1357.8 1286.5,1357.8" stroke-width="1.4"/><circle cx="745.8" cy="1006.6" r="3.4" class="d"/><rect x="761.4" y="1061" width="14" height="3.8" class="d"/><rect x="761.4" y="1069.2" width="14" height="3.8" class="d"/><line x1="762.6" y1="1069.2" x2="765.8" y2="1064.8" stroke-width="0.9"/><line x1="767.5" y1="1069.2" x2="770.7" y2="1064.8" stroke-width="0.9"/><line x1="772.4" y1="1069.2" x2="775.6" y2="1064.8" stroke-width="0.9"/><line x1="768.4" y1="1006.6" x2="768.4" y2="1061" stroke-width="1.4"/><line x1="768.4" y1="1073" x2="768.4" y2="1169.6" stroke-width="1.4"/><polyline points="768.4,1169.6 773.1,1172.18 763.7,1177.35 773.1,1182.52 763.7,1187.68 773.1,1192.85 763.7,1198.02 768.4,1200.6" stroke-width="1.5"/><line x1="768.4" y1="1200.6" x2="768.4" y2="1249.4" stroke-width="1.4"/><circle cx="768.4" cy="1006.6" r="3.4" class="d"/><circle cx="768.4" cy="1129.1" r="3.4" class="d"/><line x1="768.4" y1="1129" x2="796" y2="1129" stroke-width="1.4"/><polyline points="796,1129 798.6,1124.2 803.8,1133.8 809,1124.2 814.2,1133.8 819.4,1124.2 824.6,1133.8 827.2,1129" stroke-width="1.5"/><line x1="827.2" y1="1129" x2="919" y2="1129" stroke-width="1.4"/><circle cx="857.7" cy="1128.8" r="3.4" class="d"/><circle cx="892.7" cy="1128.8" r="3.4" class="d"/><circle cx="772.4" cy="868" r="23.6" fill="none" stroke-width="2.8"/><rect x="766.7" y="858.6" width="5.6" height="17.8" class="d"/><polyline points="772,864.5 796.1,852 796.1,764.4 1286.5,763.4" stroke-width="1.4"/><circle cx="954.6" cy="763.8" r="3.4" class="d"/><circle cx="1072.8" cy="763.6" r="3.4" class="d"/><polyline points="772,871.5 797.3,883 919,883" stroke-width="1.4"/><polygon points="793.5,881.27 782.29,880.57 785.28,877.54 785.6,873.29" class="d"/><circle cx="857.3" cy="883.3" r="3.4" class="d"/><circle cx="893.2" cy="883" r="3.4" class="d"/><rect x="911.5" y="835" width="3.8" height="14" class="d"/><rect x="919.7" y="835" width="3.8" height="14" class="d"/><line x1="893.2" y1="842" x2="911.5" y2="842" stroke-width="1.4"/><line x1="923.5" y1="842" x2="954.6" y2="842" stroke-width="1.4"/><line x1="893.2" y1="842" x2="893.2" y2="883" stroke-width="1.4"/><circle cx="954.6" cy="842" r="3.4" class="d"/><polyline points="954.6,763.8 954.6,867.5 922.8,880.5" stroke-width="1.4"/><circle cx="923.6" cy="884" r="23.6" fill="none" stroke-width="2.8"/><rect x="917.7" y="874" width="5.6" height="19" class="d"/><polyline points="922.8,887.5 946,894.5 954.2,896.8" stroke-width="1.4"/><polygon points="946,894.5 934.79,895.3 937.35,891.89 937.1,887.64" class="d"/><line x1="857.7" y1="883.3" x2="857.7" y2="918.5" stroke-width="1.4"/><line x1="857.7" y1="966" x2="857.7" y2="1040" stroke-width="1.4"/><line x1="857.7" y1="1072" x2="857.7" y2="1128.8" stroke-width="1.4"/><polygon points="851.3,918.5 864.1,918.5 857.7,929.5" class="d"/><polygon points="851.3,930.1 864.1,930.1 857.7,941.1" class="d"/><polygon points="851.3,941.7 864.1,941.7 857.7,952.7" class="d"/><polygon points="851.3,953.3 864.1,953.3 857.7,964.3" class="d"/><rect x="851.3" y="964.2" width="12.8" height="3" class="d"/><polyline points="857.7,1030 830,1030 830,1052.5" stroke-width="1.4"/><polyline points="830,1066 830,1093 857.7,1093" stroke-width="1.4"/><polygon points="823.5,1064.5 836.5,1064.5 830,1053.5" class="d"/><rect x="823.5" y="1051.2" width="13" height="2.6" class="d"/><circle cx="857.7" cy="1030" r="3.4" class="d"/><circle cx="857.7" cy="1093" r="3.4" class="d"/><polyline points="857.7,1040 862.4,1042.67 853,1048 862.4,1053.33 853,1058.67 862.4,1064 853,1069.33 857.7,1072" stroke-width="1.5"/><line x1="846.6" y1="1072.5" x2="870" y2="1039.5" stroke-width="1.4"/><polygon points="872,1036.6 870.24,1043.93 868.52,1041.51 865.67,1040.7" class="d"/><line x1="954.2" y1="896.8" x2="977.5" y2="896.8" stroke-width="1.4"/><polyline points="977.5,896.8 980.17,892 985.52,901.6 990.88,892 996.23,901.6 1001.58,892 1006.93,901.6 1009.6,896.8" stroke-width="1.5"/><line x1="1009.6" y1="896.8" x2="1072.8" y2="896.8" stroke-width="1.4"/><circle cx="954.2" cy="896.8" r="3.4" class="d"/><circle cx="1033.8" cy="896.8" r="3.4" class="d"/><line x1="954.5" y1="896.8" x2="954.5" y2="920.7" stroke-width="1.4"/><polyline points="954.5,920.7 959.2,923.19 949.8,928.18 959.2,933.16 949.8,938.14 959.2,943.12 949.8,948.11 954.5,950.6" stroke-width="1.5"/><line x1="954.5" y1="950.6" x2="954.5" y2="1036.6" stroke-width="1.4"/><polyline points="954.5,1036.6 959.2,1039.37 949.8,1044.9 959.2,1050.43 949.8,1055.97 959.2,1061.5 949.8,1067.03 954.5,1069.8" stroke-width="1.5"/><line x1="954.5" y1="1069.8" x2="954.5" y2="1111.5" stroke-width="1.4"/><circle cx="954.3" cy="979.5" r="3.4" class="d"/><line x1="954.3" y1="979.5" x2="965" y2="979.5" stroke-width="1.4"/><polyline points="965,979.5 967.52,974.7 972.55,984.3 977.58,974.7 982.62,984.3 987.65,974.7 992.68,984.3 995.2,979.5" stroke-width="1.5"/><line x1="995.2" y1="979.5" x2="1011.4" y2="979.5" stroke-width="1.4"/><line x1="1011.4" y1="979.5" x2="1011.4" y2="1006" stroke-width="1.4"/><circle cx="1011.4" cy="1006" r="3.4" class="d"/><rect x="1027" y="941.3" width="14" height="3.8" class="d"/><rect x="1027" y="949.5" width="14" height="3.8" class="d"/><line x1="1034" y1="896.8" x2="1034" y2="941.3" stroke-width="1.4"/><line x1="1034" y1="953.3" x2="1034" y2="1111.5" stroke-width="1.4"/><line x1="1072.8" y1="763.6" x2="1072.8" y2="860.8" stroke-width="1.4"/><polyline points="1072.8,860.8 1144.5,860.8 1144.5,875.3 1121,891" stroke-width="1.4"/><circle cx="1121.9" cy="897.2" r="23.6" fill="none" stroke-width="2.8"/><rect x="1115.2" y="889.4" width="5.6" height="16.3" class="d"/><line x1="1072.8" y1="897" x2="1116" y2="897" stroke-width="1.4"/><polyline points="1121,902.5 1144.5,917.6 1144.5,928.3 1072.8,928.3" stroke-width="1.4"/><polygon points="1138.62,913.83 1127.63,911.51 1131.03,908.94 1131.95,904.78" class="d"/><line x1="1072.8" y1="928.3" x2="1072.8" y2="958.4" stroke-width="1.4"/><polyline points="1072.8,958.4 1077.5,960.71 1068.1,965.33 1077.5,969.94 1068.1,974.56 1077.5,979.17 1068.1,983.79 1072.8,986.1" stroke-width="1.5"/><line x1="1072.8" y1="986.1" x2="1072.8" y2="1011.7" stroke-width="1.4"/><polyline points="1072.8,1011.7 1077.5,1014.77 1068.1,1020.9 1077.5,1027.03 1068.1,1033.17 1077.5,1039.3 1068.1,1045.43 1072.8,1048.5" stroke-width="1.5"/><line x1="1072.8" y1="1048.5" x2="1072.8" y2="1080.5" stroke-width="1.4"/><circle cx="1072.8" cy="944" r="3.4" class="d"/><circle cx="1072.8" cy="1005.8" r="3.4" class="d"/><circle cx="1072.8" cy="1061.5" r="3.4" class="d"/><line x1="1072.8" y1="944" x2="1286.5" y2="944" stroke-width="1.4"/><line x1="1072.8" y1="1061.5" x2="1286.5" y2="1061.5" stroke-width="1.4"/><circle cx="925" cy="1129.3" r="23.6" fill="none" stroke-width="2.8"/><rect x="918.2" y="1119.7" width="5.6" height="17.8" class="d"/><line x1="923.5" y1="1125" x2="954.8" y2="1111.5" stroke-width="1.4"/><polygon points="926.63,1123.65 934.69,1115.82 934.92,1120.07 937.86,1123.16" class="d"/><polyline points="923.5,1133.5 953,1146.3 954.3,1249 1286.5,1248.5" stroke-width="1.4"/><circle cx="1072.8" cy="1248.8" r="3.4" class="d"/><line x1="892.7" y1="1128.8" x2="892.7" y2="1169.6" stroke-width="1.4"/><rect x="913.7" y="1162.6" width="3.8" height="14" class="d"/><rect x="921.9" y="1162.6" width="3.8" height="14" class="d"/><line x1="892.7" y1="1169.6" x2="913.7" y2="1169.6" stroke-width="1.4"/><line x1="925.7" y1="1169.6" x2="953.8" y2="1169.6" stroke-width="1.4"/><circle cx="953.8" cy="1169.6" r="3.4" class="d"/><line x1="954.8" y1="1111.5" x2="977.5" y2="1111.5" stroke-width="1.4"/><polyline points="977.5,1111.5 980.08,1106.7 985.25,1116.3 990.42,1106.7 995.58,1116.3 1000.75,1106.7 1005.92,1116.3 1008.5,1111.5" stroke-width="1.5"/><line x1="1008.5" y1="1111.5" x2="1072.8" y2="1111.5" stroke-width="1.4"/><circle cx="954.8" cy="1111.5" r="3.4" class="d"/><circle cx="1034" cy="1111.5" r="3.4" class="d"/><polyline points="1072.8,1080.5 1144.5,1080.5 1144.5,1088.5 1121.5,1105.5" stroke-width="1.4"/><polygon points="1123.8,1103.8 1129.87,1094.34 1131.06,1098.43 1134.62,1100.78" class="d"/><circle cx="1122.8" cy="1110.5" r="23.6" fill="none" stroke-width="2.8"/><rect x="1116.2" y="1101.5" width="5.6" height="18.5" class="d"/><line x1="1072.8" y1="1111.4" x2="1117" y2="1111.4" stroke-width="1.4"/><polyline points="1121.5,1115.5 1144.5,1134 1144.5,1150.2 1072.8,1150.2" stroke-width="1.4"/><line x1="1072.8" y1="1150.2" x2="1072.8" y2="1248.8" stroke-width="1.4"/><circle cx="1187.8" cy="1005.6" r="3.4" class="d"/><circle cx="1255" cy="1005.5" r="3.4" class="d"/><polyline points="1187.8,1005.6 1187.8,970.6 1204,970.6" stroke-width="1.4"/><path d="M1204,970.6 C1205.27,961.6 1215.4,961.6 1216.67,970.6 C1217.93,961.6 1228.07,961.6 1229.33,970.6 C1230.6,961.6 1240.73,961.6 1242,970.6" fill="none" stroke-width="1.4"/><ellipse cx="1210.33" cy="971.1" rx="2.79" ry="5" fill="none" stroke-width="1.2"/><ellipse cx="1223" cy="971.1" rx="2.79" ry="5" fill="none" stroke-width="1.2"/><ellipse cx="1235.67" cy="971.1" rx="2.79" ry="5" fill="none" stroke-width="1.2"/><polyline points="1242,970.6 1255,970.6 1255,1005.5" stroke-width="1.4"/><polyline points="1255,1005.5 1255,1028.5 1286.5,1028.5" stroke-width="1.4"/><rect x="1180.5" y="1101.5" width="14" height="3.8" class="d"/><rect x="1180.5" y="1109.7" width="14" height="3.8" class="d"/><line x1="1187.5" y1="1005.6" x2="1187.5" y2="1101.5" stroke-width="1.4"/><line x1="1187.5" y1="1113.5" x2="1187.5" y2="1156.7" stroke-width="1.4"/><polyline points="1187.5,1156.7 1192.2,1159.14 1182.8,1164.03 1192.2,1168.91 1182.8,1173.79 1192.2,1178.67 1182.8,1183.56 1187.5,1186" stroke-width="1.5"/><line x1="1187.5" y1="1186" x2="1187.5" y2="1296.2" stroke-width="1.4"/><line x1="575.2" y1="915" x2="582.4" y2="915" stroke-width="1.2"/><line x1="578.8" y1="911.4" x2="578.8" y2="918.6" stroke-width="1.2"/><line x1="758.2" y1="1050" x2="765.4" y2="1050" stroke-width="1.2"/><line x1="761.8" y1="1046.4" x2="761.8" y2="1053.6" stroke-width="1.2"/><line x1="497" y1="1077.6" x2="504.2" y2="1077.6" stroke-width="1.2"/><line x1="500.6" y1="1074" x2="500.6" y2="1081.2" stroke-width="1.2"/><line x1="273.4" y1="1125" x2="280.6" y2="1125" stroke-width="1.2"/><line x1="277" y1="1121.4" x2="277" y2="1128.6" stroke-width="1.2"/><circle cx="64.5" cy="172.8" r="4.4" class="n"/><circle cx="64.5" cy="204.7" r="4.4" class="n"/><circle cx="64.5" cy="413.8" r="4.4" class="n"/><circle cx="64.5" cy="522.3" r="4.4" class="n"/><circle cx="64.5" cy="631.4" r="4.4" class="n"/><circle cx="64.5" cy="656.6" r="4.4" class="n"/><circle cx="64.5" cy="698.3" r="4.4" class="n"/><circle cx="1286.5" cy="101.7" r="4.4" class="n"/><circle cx="1286.5" cy="170.3" r="4.4" class="n"/><circle cx="1286.5" cy="349.1" r="4.4" class="n"/><circle cx="1286.5" cy="411.6" r="4.4" class="n"/><circle cx="1286.5" cy="434.6" r="4.4" class="n"/><circle cx="1286.5" cy="468.8" r="4.4" class="n"/><circle cx="1286.5" cy="654.5" r="4.4" class="n"/><circle cx="1073.2" cy="266.8" r="4.4" class="n"/><circle cx="1073.2" cy="304.5" r="4.4" class="n"/><circle cx="1073.2" cy="332.9" r="4.4" class="n"/><circle cx="1073.2" cy="486.5" r="4.4" class="n"/><circle cx="1073.2" cy="519" r="4.4" class="n"/><circle cx="1073.2" cy="556" r="4.4" class="n"/><circle cx="64.5" cy="765.4" r="4.4" class="n"/><circle cx="64.5" cy="789.1" r="4.4" class="n"/><circle cx="64.5" cy="1007" r="4.4" class="n"/><circle cx="64.5" cy="1111.9" r="4.4" class="n"/><circle cx="64.5" cy="1226.6" r="4.4" class="n"/><circle cx="64.5" cy="1250.5" r="4.4" class="n"/><circle cx="64.5" cy="1297.5" r="4.4" class="n"/><circle cx="1286.5" cy="763.4" r="4.4" class="n"/><circle cx="1286.5" cy="944" r="4.4" class="n"/><circle cx="1286.5" cy="1005.5" r="4.4" class="n"/><circle cx="1286.5" cy="1028.5" r="4.4" class="n"/><circle cx="1286.5" cy="1061.5" r="4.4" class="n"/><circle cx="1286.5" cy="1248.5" r="4.4" class="n"/><circle cx="1286.5" cy="1357.8" r="4.4" class="n"/><circle cx="1072.8" cy="860.8" r="4.4" class="n"/><circle cx="1072.8" cy="897" r="4.4" class="n"/><circle cx="1072.8" cy="928.3" r="4.4" class="n"/><circle cx="1072.8" cy="1080.5" r="4.4" class="n"/><circle cx="1072.8" cy="1111.4" r="4.4" class="n"/><circle cx="1072.8" cy="1150.2" r="4.4" class="n"/></g><g fill="#111"><text class="b" font-size="19" x="12.2" y="167.7" textLength="44.3" lengthAdjust="spacingAndGlyphs"><tspan>+30V</tspan></text><text class="t" font-size="15" x="43" y="184.5" textLength="12.4" lengthAdjust="spacingAndGlyphs"><tspan>11</tspan></text><text class="t" font-size="16.43" x="42" y="211.5" textLength="14.5" lengthAdjust="spacingAndGlyphs"><tspan>12</tspan></text><text class="t" font-size="19.14" x="38" y="422.4" textLength="16.8" lengthAdjust="spacingAndGlyphs"><tspan>10</tspan></text><text class="t" font-size="19.14" x="44.7" y="530.8" textLength="9" lengthAdjust="spacingAndGlyphs"><tspan>7</tspan></text><text class="t" font-size="19.14" x="45.8" y="639.2" textLength="7.9" lengthAdjust="spacingAndGlyphs"><tspan>8</tspan></text><text class="t" font-size="17.86" x="45.8" y="660.5" textLength="7.9" lengthAdjust="spacingAndGlyphs"><tspan>9</tspan></text><text class="t" font-size="19.14" x="45.8" y="706.3" textLength="7.9" lengthAdjust="spacingAndGlyphs"><tspan>6</tspan></text><text class="b" font-size="15.71" x="71.5" y="516" textLength="21.3" lengthAdjust="spacingAndGlyphs"><tspan>0V</tspan></text><text class="b" font-size="19" x="13.4" y="678.3" textLength="42.6" lengthAdjust="spacingAndGlyphs"><tspan>-42V</tspan></text><text class="b" font-size="16" x="81.6" y="694" textLength="21.2" lengthAdjust="spacingAndGlyphs"><tspan>0V</tspan></text><text class="t" font-size="15.43" x="128.6" y="381.4" textLength="13.4" lengthAdjust="spacingAndGlyphs"><tspan>C</tspan><tspan font-size="11.11" dy="1.4">1</tspan></text><text class="t" font-size="19" x="106.4" y="402.7" textLength="61" lengthAdjust="spacingAndGlyphs"><tspan>0.22/35</tspan></text><text class="t" font-size="12" x="149.5" y="411.5" textLength="7.8" lengthAdjust="spacingAndGlyphs"><tspan>+</tspan></text><text class="t" font-size="15.14" x="246" y="384.6" textLength="20" lengthAdjust="spacingAndGlyphs"><tspan>R</tspan><tspan font-size="10.9" dy="1.4">17</tspan></text><text class="t" font-size="19.29" x="241.7" y="404" textLength="32.1" lengthAdjust="spacingAndGlyphs"><tspan>2.2K</tspan></text><text class="t" font-size="12" x="272.3" y="424.5" textLength="7.7" lengthAdjust="spacingAndGlyphs"><tspan>+</tspan></text><text class="t" font-size="15.14" x="292" y="385.6" textLength="15.7" lengthAdjust="spacingAndGlyphs"><tspan>C</tspan><tspan font-size="10.9" dy="1.4">5</tspan></text><text class="t" font-size="17.29" x="286.6" y="403.8" textLength="48.8" lengthAdjust="spacingAndGlyphs"><tspan>0.47/35</tspan></text><text class="t" font-size="17.29" x="348.7" y="353.6" textLength="56.6" lengthAdjust="spacingAndGlyphs"><tspan>C</tspan><tspan font-size="12.45" dy="1.4">7</tspan><tspan dy="-1.4"> 100P</tspan></text><text class="t" font-size="15.86" x="374" y="384.6" textLength="15.8" lengthAdjust="spacingAndGlyphs"><tspan>Q</tspan><tspan font-size="11.42" dy="1.4">1</tspan></text><text class="t" font-size="17.29" x="451.8" y="382.6" textLength="16.7" lengthAdjust="spacingAndGlyphs"><tspan>Q</tspan><tspan font-size="12.45" dy="1.4">3</tspan></text><text class="t" font-size="16.29" x="450.7" y="299.4" textLength="42.2" lengthAdjust="spacingAndGlyphs"><tspan>Q</tspan><tspan font-size="11.73" dy="1.4">1</tspan><tspan dy="-1.4">, Q</tspan><tspan font-size="11.73" dy="1.4">3</tspan></text><text class="b" font-size="20.57" x="435" y="321.8" textLength="73.4" lengthAdjust="spacingAndGlyphs"><tspan>2SA726</tspan></text><text class="b" font-size="18.86" x="548.3" y="284" textLength="28.7" lengthAdjust="spacingAndGlyphs"><tspan>19V</tspan></text><text class="t" font-size="17" x="519.5" y="403.6" textLength="53.2" lengthAdjust="spacingAndGlyphs"><tspan>R</tspan><tspan font-size="12.24" dy="1.4">27</tspan><tspan dy="-1.4"> 39K</tspan></text><text class="t" font-size="15.57" x="614.3" y="264.9" textLength="57.7" lengthAdjust="spacingAndGlyphs"><tspan>R</tspan><tspan font-size="11.21" dy="1.4">33</tspan><tspan dy="-1.4"> 82K</tspan></text><text class="b" font-size="19.29" x="696.4" y="268.5" textLength="41" lengthAdjust="spacingAndGlyphs"><tspan>+1.8V</tspan></text><text class="t" font-size="18" x="766" y="241.6" textLength="18" lengthAdjust="spacingAndGlyphs"><tspan>Q</tspan><tspan font-size="12.96" dy="1.4">7</tspan></text><text class="b" font-size="20.43" x="750.7" y="326" textLength="68.7" lengthAdjust="spacingAndGlyphs"><tspan>2SC1451</tspan></text><text class="b" font-size="17" x="838.8" y="284.1" textLength="44.4" lengthAdjust="spacingAndGlyphs"><tspan>+1.2V</tspan></text><text class="t" font-size="15.43" x="888.7" y="237.3" textLength="55.3" lengthAdjust="spacingAndGlyphs"><tspan>C</tspan><tspan font-size="11.11" dy="1.4">19</tspan><tspan dy="-1.4"> 82P</tspan></text><text class="t" font-size="15.86" x="995" y="231.6" textLength="18" lengthAdjust="spacingAndGlyphs"><tspan>Q</tspan><tspan font-size="11.42" dy="1.4">9</tspan></text><text class="b" font-size="20.43" x="969.7" y="255.3" textLength="72" lengthAdjust="spacingAndGlyphs"><tspan>2SD357</tspan></text><text class="t" font-size="14" x="975" y="280.6" textLength="23.5" lengthAdjust="spacingAndGlyphs"><tspan>R</tspan><tspan font-size="10.08" dy="1.4">43</tspan></text><text class="t" font-size="15.86" x="967.5" y="297.4" textLength="42.1" lengthAdjust="spacingAndGlyphs"><tspan>4.7  1W</tspan></text><text class="t" font-size="17.14" x="1048" y="273" textLength="16" lengthAdjust="spacingAndGlyphs"><tspan>33</tspan></text><text class="t" font-size="14.86" x="1058" y="297.4" textLength="14.8" lengthAdjust="spacingAndGlyphs"><tspan>35</tspan></text><text class="t" font-size="17.14" x="1045" y="339" textLength="17" lengthAdjust="spacingAndGlyphs"><tspan>34</tspan></text><text class="t" font-size="12.29" x="965" y="374.6" textLength="24.6" lengthAdjust="spacingAndGlyphs"><tspan>R</tspan><tspan font-size="8.85" dy="1.4">45</tspan></text><text class="t" font-size="19" x="962" y="405" textLength="33" lengthAdjust="spacingAndGlyphs"><tspan>5.6K</tspan></text><text class="t" font-size="15.14" x="1148.8" y="254.6" textLength="23.8" lengthAdjust="spacingAndGlyphs"><tspan>Q</tspan><tspan font-size="10.9" dy="1.4">13</tspan></text><text class="b" font-size="21.71" x="1180" y="256" textLength="72.7" lengthAdjust="spacingAndGlyphs"><tspan>2SD370</tspan></text><text class="t" font-size="17.86" x="1295.3" y="109" textLength="16.5" lengthAdjust="spacingAndGlyphs"><tspan>39</tspan></text><text class="t" font-size="17.71" x="1297.4" y="165" textLength="13.6" lengthAdjust="spacingAndGlyphs"><tspan>13</tspan></text><text class="b" font-size="16.71" x="1304.7" y="185.2" textLength="38.3" lengthAdjust="spacingAndGlyphs"><tspan>+36V</tspan></text><text class="t" font-size="17.14" x="1298" y="356" textLength="4.5" lengthAdjust="spacingAndGlyphs"><tspan>1</tspan></text><text class="t" font-size="15" x="1194" y="368.3" textLength="68.5" lengthAdjust="spacingAndGlyphs"><tspan>L</tspan><tspan font-size="10.8" dy="1.4">1</tspan><tspan dy="-1.4">  2.2 μH</tspan></text><text class="b" font-size="17" x="1257" y="406.5" textLength="21.7" lengthAdjust="spacingAndGlyphs"><tspan>0V</tspan></text><text class="t" font-size="18.57" x="1297" y="419.5" textLength="9" lengthAdjust="spacingAndGlyphs"><tspan>4</tspan></text><text class="t" font-size="14.86" x="1207" y="433.1" textLength="25" lengthAdjust="spacingAndGlyphs"><tspan>R</tspan><tspan font-size="10.7" dy="1.4">53</tspan></text><text class="t" font-size="18.57" x="1197.5" y="454" textLength="49.8" lengthAdjust="spacingAndGlyphs"><tspan>10  2W</tspan></text><text class="t" font-size="17.14" x="1297.5" y="442" textLength="8.5" lengthAdjust="spacingAndGlyphs"><tspan>5</tspan></text><text class="t" font-size="16.43" x="1297" y="475" textLength="8.5" lengthAdjust="spacingAndGlyphs"><tspan>2</tspan></text><text class="t" font-size="15.29" x="642" y="488.2" textLength="48.8" lengthAdjust="spacingAndGlyphs"><tspan>C</tspan><tspan font-size="11.01" dy="1.4">15</tspan><tspan dy="-1.4"> 12P</tspan></text><text class="b" font-size="19.29" x="596.6" y="569.5" textLength="54.4" lengthAdjust="spacingAndGlyphs"><tspan>-41.4V</tspan></text><text class="t" font-size="14" x="655" y="592.6" textLength="16" lengthAdjust="spacingAndGlyphs"><tspan>Q</tspan><tspan font-size="10.08" dy="1.4">5</tspan></text><text class="b" font-size="20.71" x="624" y="617.5" textLength="69" lengthAdjust="spacingAndGlyphs"><tspan>2SC869</tspan></text><text class="b" font-size="20.57" x="769.5" y="526.2" textLength="35.5" lengthAdjust="spacingAndGlyphs"><tspan>-28V</tspan></text><text class="t" font-size="16" x="787.3" y="559.6" textLength="56.5" lengthAdjust="spacingAndGlyphs"><tspan>R</tspan><tspan font-size="11.52" dy="1.4">37</tspan><tspan dy="-1.4"> 4.7K</tspan></text><text class="b" font-size="19" x="858.8" y="529.7" textLength="35.5" lengthAdjust="spacingAndGlyphs"><tspan>-1.2V</tspan></text><text class="t" font-size="15.57" x="979.7" y="493.9" textLength="23.3" lengthAdjust="spacingAndGlyphs"><tspan>R</tspan><tspan font-size="11.21" dy="1.4">47</tspan></text><text class="t" font-size="15.86" x="965" y="510.8" textLength="50" lengthAdjust="spacingAndGlyphs"><tspan>4.7  1W</tspan></text><text class="t" font-size="18.57" x="1046" y="494" textLength="15.7" lengthAdjust="spacingAndGlyphs"><tspan>37</tspan></text><text class="t" font-size="17.57" x="1047" y="536.3" textLength="16" lengthAdjust="spacingAndGlyphs"><tspan>38</tspan></text><text class="t" font-size="17.14" x="1046" y="566" textLength="17" lengthAdjust="spacingAndGlyphs"><tspan>36</tspan></text><text class="t" font-size="16.57" x="884.3" y="600.6" textLength="57.7" lengthAdjust="spacingAndGlyphs"><tspan>C</tspan><tspan font-size="11.93" dy="1.4">21</tspan><tspan dy="-1.4">  82P</tspan></text><text class="t" font-size="15.14" x="988.5" y="576.1" textLength="18.9" lengthAdjust="spacingAndGlyphs"><tspan>Q</tspan><tspan font-size="10.9" dy="1.4">11</tspan></text><text class="b" font-size="22.14" x="960.8" y="599.5" textLength="72.1" lengthAdjust="spacingAndGlyphs"><tspan>2SB527</tspan></text><text class="t" font-size="14.43" x="1115" y="577.1" textLength="23" lengthAdjust="spacingAndGlyphs"><tspan>Q</tspan><tspan font-size="10.39" dy="1.4">15</tspan></text><text class="b" font-size="21.71" x="1087" y="600.8" textLength="70.4" lengthAdjust="spacingAndGlyphs"><tspan>2SB530</tspan></text><text class="t" font-size="18.57" x="1300" y="651.6" textLength="9" lengthAdjust="spacingAndGlyphs"><tspan>3</tspan></text><text class="b" font-size="18.57" x="1290.6" y="673.3" textLength="41.2" lengthAdjust="spacingAndGlyphs"><tspan>-36V</tspan></text><text class="t" font-size="13.86" x="115" y="539.4" textLength="47" lengthAdjust="spacingAndGlyphs"><tspan>R</tspan><tspan font-size="9.98" dy="1.4">5</tspan><tspan dy="-1.4"> 820</tspan></text><text class="t" font-size="13.86" x="186.7" y="539.4" textLength="50.3" lengthAdjust="spacingAndGlyphs"><tspan>R</tspan><tspan font-size="9.98" dy="1.4">11</tspan><tspan dy="-1.4"> 18K</tspan></text><text class="b" font-size="16.43" x="238" y="518.5" textLength="51.5" lengthAdjust="spacingAndGlyphs"><tspan>+0.07V</tspan></text><text class="t" font-size="15.14" x="154" y="570.6" textLength="13.7" lengthAdjust="spacingAndGlyphs"><tspan>D</tspan><tspan font-size="10.9" dy="1.4">1</tspan></text><text class="b" font-size="20.86" x="133" y="592.3" textLength="61.5" lengthAdjust="spacingAndGlyphs"><tspan>1S2473</tspan></text><text class="b" font-size="19.29" x="249" y="618" textLength="51" lengthAdjust="spacingAndGlyphs"><tspan>-0.12V</tspan></text><text class="t" font-size="15.86" x="201" y="628.1" textLength="21.4" lengthAdjust="spacingAndGlyphs"><tspan>R</tspan><tspan font-size="11.42" dy="1.4">13</tspan></text><text class="t" font-size="19.14" x="198" y="647" textLength="34.5" lengthAdjust="spacingAndGlyphs"><tspan>100K</tspan></text><text class="t" font-size="15.86" x="526" y="494.6" textLength="54" lengthAdjust="spacingAndGlyphs"><tspan>R</tspan><tspan font-size="11.42" dy="1.4">29</tspan><tspan dy="-1.4">  22K</tspan></text><text class="t" font-size="19.43" transform="translate(168.6,288.5) rotate(-90)" textLength="52" lengthAdjust="spacingAndGlyphs"><tspan>R</tspan><tspan font-size="13.99" dy="2.4">7</tspan><tspan dy="-2.4"> 56K</tspan></text><text class="t" font-size="17.14" transform="translate(206,379.5) rotate(-90)" textLength="51" lengthAdjust="spacingAndGlyphs"><tspan>R</tspan><tspan font-size="12.34" dy="2.4">9</tspan><tspan dy="-2.4"> 33K</tspan></text><text class="t" font-size="17.43" transform="translate(406.2,275) rotate(-90)" textLength="66.3" lengthAdjust="spacingAndGlyphs"><tspan>R</tspan><tspan font-size="12.55" dy="2.4">21</tspan><tspan dy="-2.4"> 110K</tspan></text><text class="t" font-size="16.86" transform="translate(579.6,248.5) rotate(-90)" textLength="58.7" lengthAdjust="spacingAndGlyphs"><tspan>R</tspan><tspan font-size="12.14" dy="2.4">31</tspan><tspan dy="-2.4"> 47K</tspan></text><text class="t" font-size="16.57" transform="translate(613.6,378) rotate(-90)" textLength="79.6" lengthAdjust="spacingAndGlyphs"><tspan>C</tspan><tspan font-size="11.93" dy="2.4">13</tspan><tspan dy="-2.4">  3.3/50</tspan></text><text class="t" font-size="15.14" transform="translate(94.6,476) rotate(-90)" textLength="16" lengthAdjust="spacingAndGlyphs"><tspan>R</tspan><tspan font-size="10.9" dy="2.4">1</tspan></text><text class="t" font-size="21.43" transform="translate(130,481.6) rotate(-90)" textLength="33.6" lengthAdjust="spacingAndGlyphs"><tspan>100K</tspan></text><text class="t" font-size="17.29" transform="translate(94.8,602.3) rotate(-90)" textLength="53.6" lengthAdjust="spacingAndGlyphs"><tspan>R</tspan><tspan font-size="12.45" dy="2.4">3</tspan><tspan dy="-2.4"> 3.3K</tspan></text><text class="t" font-size="17.29" transform="translate(221.1,589) rotate(-90)" textLength="28" lengthAdjust="spacingAndGlyphs"><tspan>VR</tspan><tspan font-size="12.45" dy="2.4">1</tspan></text><text class="t" font-size="22.29" transform="translate(240.3,599) rotate(-90)" textLength="39" lengthAdjust="spacingAndGlyphs"><tspan>10K B</tspan></text><text class="t" font-size="14.57" transform="translate(269.2,561) rotate(-90)" textLength="18" lengthAdjust="spacingAndGlyphs"><tspan>C</tspan><tspan font-size="10.49" dy="2.4">3</tspan></text><text class="t" font-size="20.71" transform="translate(305.5,574) rotate(-90)" textLength="42" lengthAdjust="spacingAndGlyphs"><tspan>33/16</tspan></text><text class="t" font-size="18.71" transform="translate(145.1,645) rotate(-90)" textLength="21.4" lengthAdjust="spacingAndGlyphs"><tspan>R</tspan><tspan font-size="13.47" dy="2.4">15</tspan></text><text class="t" font-size="20.86" transform="translate(166.6,647) rotate(-90)" textLength="31.3" lengthAdjust="spacingAndGlyphs"><tspan>82K</tspan></text><text class="t" font-size="20.14" transform="translate(303.1,496.5) rotate(-90)" textLength="63.5" lengthAdjust="spacingAndGlyphs"><tspan>R</tspan><tspan font-size="14.5" dy="2.4">19</tspan><tspan dy="-2.4"> 100K</tspan></text><text class="t" font-size="22.29" transform="translate(368.6,511) rotate(-90)" textLength="61" lengthAdjust="spacingAndGlyphs"><tspan>C</tspan><tspan font-size="16.05" dy="2.4">9</tspan><tspan dy="-2.4">  100P</tspan></text><text class="t" font-size="15.57" transform="translate(387.4,627) rotate(-90)" textLength="64" lengthAdjust="spacingAndGlyphs"><tspan>R</tspan><tspan font-size="11.21" dy="2.4">23</tspan><tspan dy="-2.4"> 4.7K</tspan></text><text class="t" font-size="20.14" transform="translate(497.1,453.2) rotate(-90)" textLength="24.4" lengthAdjust="spacingAndGlyphs"><tspan>R</tspan><tspan font-size="14.5" dy="2.4">25</tspan></text><text class="t" font-size="19.57" transform="translate(531.7,452) rotate(-90)" textLength="19" lengthAdjust="spacingAndGlyphs"><tspan>1K</tspan></text><text class="t" font-size="17.14" transform="translate(476,504) rotate(-90)" textLength="17.5" lengthAdjust="spacingAndGlyphs"><tspan>C</tspan><tspan font-size="12.34" dy="2.4">11</tspan></text><text class="t" font-size="20.57" transform="translate(496.2,519.7) rotate(-90)" textLength="45.4" lengthAdjust="spacingAndGlyphs"><tspan>330/10</tspan></text><text class="t" font-size="20" transform="translate(753.6,511.8) rotate(-90)" textLength="83.1" lengthAdjust="spacingAndGlyphs"><tspan>C</tspan><tspan font-size="14.4" dy="2.4">17</tspan><tspan dy="-2.4">  100/50</tspan></text><text class="t" font-size="15.57" transform="translate(792.6,472) rotate(-90)" textLength="18" lengthAdjust="spacingAndGlyphs"><tspan>D</tspan><tspan font-size="11.21" dy="2.4">3</tspan></text><text class="b" font-size="23.71" transform="translate(817.2,496.3) rotate(-90)" textLength="64.3" lengthAdjust="spacingAndGlyphs"><tspan>1S2473</tspan></text><text class="t" font-size="18.14" transform="translate(757.4,622.9) rotate(-90)" textLength="59.9" lengthAdjust="spacingAndGlyphs"><tspan>R</tspan><tspan font-size="13.06" dy="2.4">35</tspan><tspan dy="-2.4"> 2.7K</tspan></text><text class="t" font-size="17.43" transform="translate(819.2,360) rotate(-90)" textLength="18" lengthAdjust="spacingAndGlyphs"><tspan>D</tspan><tspan font-size="12.55" dy="2.4">5</tspan></text><text class="b" font-size="23.86" transform="translate(842.7,385) rotate(-90)" textLength="73.2" lengthAdjust="spacingAndGlyphs"><tspan>STV-4H</tspan></text><text class="t" font-size="19.14" transform="translate(886.4,498.6) rotate(-90)" textLength="67.6" lengthAdjust="spacingAndGlyphs"><tspan>VR</tspan><tspan font-size="13.78" dy="2.4">3</tspan><tspan dy="-2.4"> 100 B</tspan></text><text class="t" font-size="18.86" transform="translate(923.6,366.8) rotate(-90)" textLength="23.5" lengthAdjust="spacingAndGlyphs"><tspan>R</tspan><tspan font-size="13.58" dy="2.4">39</tspan></text><text class="t" font-size="20.71" transform="translate(945.5,379) rotate(-90)" textLength="51.3" lengthAdjust="spacingAndGlyphs"><tspan>150 ½W</tspan></text><text class="t" font-size="17.43" transform="translate(1007.2,352.9) rotate(-90)" textLength="23.3" lengthAdjust="spacingAndGlyphs"><tspan>C</tspan><tspan font-size="12.55" dy="2.4">23</tspan></text><text class="t" font-size="18.86" transform="translate(1025,374) rotate(-90)" textLength="44.4" lengthAdjust="spacingAndGlyphs"><tspan>0.082</tspan></text><text class="t" font-size="18.29" transform="translate(1095.5,391.3) rotate(-90)" textLength="27.3" lengthAdjust="spacingAndGlyphs"><tspan>R</tspan><tspan font-size="13.17" dy="2.4">49</tspan></text><text class="t" font-size="16.86" transform="translate(1114,401) rotate(-90)" textLength="45.4" lengthAdjust="spacingAndGlyphs"><tspan>0.5  5W</tspan></text><text class="t" font-size="19.86" transform="translate(1096.6,453) rotate(-90)" textLength="25" lengthAdjust="spacingAndGlyphs"><tspan>R</tspan><tspan font-size="14.3" dy="2.4">51</tspan></text><text class="t" font-size="17.14" transform="translate(1114,465) rotate(-90)" textLength="51" lengthAdjust="spacingAndGlyphs"><tspan>0.5  5W</tspan></text><text class="t" font-size="18.86" transform="translate(925.2,468.7) rotate(-90)" textLength="23.3" lengthAdjust="spacingAndGlyphs"><tspan>R</tspan><tspan font-size="13.58" dy="2.4">41</tspan></text><text class="t" font-size="20.57" transform="translate(945.3,484.2) rotate(-90)" textLength="56.5" lengthAdjust="spacingAndGlyphs"><tspan>150 ½W</tspan></text><text class="t" font-size="18.14" transform="translate(1211.3,525) rotate(-90)" textLength="23" lengthAdjust="spacingAndGlyphs"><tspan>C</tspan><tspan font-size="13.06" dy="2.4">25</tspan></text><text class="t" font-size="21.43" transform="translate(1231,537) rotate(-90)" textLength="42.4" lengthAdjust="spacingAndGlyphs"><tspan>0.056</tspan></text><text class="t" font-size="19.71" transform="translate(1212.4,592) rotate(-90)" textLength="21.6" lengthAdjust="spacingAndGlyphs"><tspan>R</tspan><tspan font-size="14.19" dy="2.4">55</tspan></text><text class="t" font-size="20" transform="translate(1231,599.7) rotate(-90)" textLength="37.9" lengthAdjust="spacingAndGlyphs"><tspan>10  1W</tspan></text><text class="t" font-size="17.43" x="41" y="758.8" textLength="14.4" lengthAdjust="spacingAndGlyphs"><tspan>15</tspan></text><text class="b" font-size="19.29" x="16.6" y="776.5" textLength="39.9" lengthAdjust="spacingAndGlyphs"><tspan>+30V</tspan></text><text class="t" font-size="18" x="40" y="797.6" textLength="14.3" lengthAdjust="spacingAndGlyphs"><tspan>16</tspan></text><text class="t" font-size="18.14" x="122" y="977.1" textLength="15.5" lengthAdjust="spacingAndGlyphs"><tspan>C</tspan><tspan font-size="13.06" dy="1.4">2</tspan></text><text class="t" font-size="19.29" x="104" y="995.5" textLength="60" lengthAdjust="spacingAndGlyphs"><tspan>0.22/35</tspan></text><text class="t" font-size="12" x="148.5" y="1004.5" textLength="8" lengthAdjust="spacingAndGlyphs"><tspan>+</tspan></text><text class="t" font-size="16.57" x="238" y="993.6" textLength="21.4" lengthAdjust="spacingAndGlyphs"><tspan>R</tspan><tspan font-size="11.93" dy="1.4">18</tspan></text><text class="t" font-size="17.43" x="231.7" y="1031" textLength="32.3" lengthAdjust="spacingAndGlyphs"><tspan>2.2K</tspan></text><text class="t" font-size="12" x="270" y="1003.5" textLength="7.6" lengthAdjust="spacingAndGlyphs"><tspan>+</tspan></text><text class="t" font-size="15.57" x="281.6" y="972.6" textLength="15.4" lengthAdjust="spacingAndGlyphs"><tspan>C</tspan><tspan font-size="11.21" dy="1.4">6</tspan></text><text class="t" font-size="17.57" x="280" y="994" textLength="52" lengthAdjust="spacingAndGlyphs"><tspan>0.47/35</tspan></text><text class="t" font-size="18.57" x="40" y="1014" textLength="14" lengthAdjust="spacingAndGlyphs"><tspan>17</tspan></text><text class="t" font-size="19.43" x="37.7" y="1119.6" textLength="16.6" lengthAdjust="spacingAndGlyphs"><tspan>20</tspan></text><text class="b" font-size="17.86" x="68.7" y="1107.5" textLength="21.1" lengthAdjust="spacingAndGlyphs"><tspan>0V</tspan></text><text class="b" font-size="17.14" x="230.6" y="1106" textLength="55.4" lengthAdjust="spacingAndGlyphs"><tspan>+0.07V</tspan></text><text class="t" font-size="15.43" x="112" y="1130.4" textLength="52" lengthAdjust="spacingAndGlyphs"><tspan>R</tspan><tspan font-size="11.11" dy="1.4">6</tspan><tspan dy="-1.4">  820</tspan></text><text class="t" font-size="15.43" x="187.4" y="1130.4" textLength="52.1" lengthAdjust="spacingAndGlyphs"><tspan>R</tspan><tspan font-size="11.11" dy="1.4">12</tspan><tspan dy="-1.4"> 18K</tspan></text><text class="t" font-size="15.71" x="160.8" y="1160.6" textLength="15.5" lengthAdjust="spacingAndGlyphs"><tspan>D</tspan><tspan font-size="11.31" dy="1.4">2</tspan></text><text class="b" font-size="19" x="130.8" y="1181.7" textLength="63.2" lengthAdjust="spacingAndGlyphs"><tspan>1S2473</tspan></text><text class="b" font-size="17.43" x="249.4" y="1207.2" textLength="50.6" lengthAdjust="spacingAndGlyphs"><tspan>-0.12V</tspan></text><text class="t" font-size="13.71" x="200.7" y="1221.3" textLength="22.1" lengthAdjust="spacingAndGlyphs"><tspan>R</tspan><tspan font-size="9.87" dy="1.4">14</tspan></text><text class="t" font-size="17.14" x="199.6" y="1237" textLength="34.4" lengthAdjust="spacingAndGlyphs"><tspan>100K</tspan></text><text class="t" font-size="19.57" x="41" y="1232.7" textLength="13.3" lengthAdjust="spacingAndGlyphs"><tspan>18</tspan></text><text class="t" font-size="17.86" x="42" y="1256.5" textLength="12.3" lengthAdjust="spacingAndGlyphs"><tspan>19</tspan></text><text class="b" font-size="18.86" x="14.4" y="1273" textLength="41" lengthAdjust="spacingAndGlyphs"><tspan>-42V</tspan></text><text class="t" font-size="17.29" x="37.7" y="1303" textLength="15.5" lengthAdjust="spacingAndGlyphs"><tspan>21</tspan></text><text class="b" font-size="17.43" x="72" y="1292" textLength="22.2" lengthAdjust="spacingAndGlyphs"><tspan>0V</tspan></text><text class="t" font-size="17.14" x="362" y="941.6" textLength="51" lengthAdjust="spacingAndGlyphs"><tspan>C</tspan><tspan font-size="12.34" dy="1.4">8</tspan><tspan dy="-1.4"> 100P</tspan></text><text class="t" font-size="15.86" x="372" y="978.1" textLength="17.8" lengthAdjust="spacingAndGlyphs"><tspan>Q</tspan><tspan font-size="11.42" dy="1.4">2</tspan></text><text class="t" font-size="15.14" x="449.6" y="976.6" textLength="20" lengthAdjust="spacingAndGlyphs"><tspan>Q</tspan><tspan font-size="10.9" dy="1.4">4</tspan></text><text class="t" font-size="16.86" x="448.5" y="912.6" textLength="47.5" lengthAdjust="spacingAndGlyphs"><tspan>Q</tspan><tspan font-size="12.14" dy="1.4">2</tspan><tspan dy="-1.4">, Q</tspan><tspan font-size="12.14" dy="1.4">4</tspan></text><text class="b" font-size="20.43" x="435" y="935" textLength="75.6" lengthAdjust="spacingAndGlyphs"><tspan>2SA726</tspan></text><text class="b" font-size="17.14" x="548.3" y="874" textLength="27.7" lengthAdjust="spacingAndGlyphs"><tspan>19V</tspan></text><text class="t" font-size="16.57" x="526" y="996.6" textLength="51" lengthAdjust="spacingAndGlyphs"><tspan>R</tspan><tspan font-size="11.93" dy="1.4">28</tspan><tspan dy="-1.4"> 39K</tspan></text><text class="t" font-size="18" x="528" y="1086.6" textLength="52" lengthAdjust="spacingAndGlyphs"><tspan>R</tspan><tspan font-size="12.96" dy="1.4">30</tspan><tspan dy="-1.4">  22K</tspan></text><text class="t" font-size="17.14" x="616.5" y="855" textLength="57.7" lengthAdjust="spacingAndGlyphs"><tspan>R</tspan><tspan font-size="12.34" dy="1.4">34</tspan><tspan dy="-1.4"> 82K</tspan></text><text class="b" font-size="17.43" x="698.6" y="860.8" textLength="43.2" lengthAdjust="spacingAndGlyphs"><tspan>+1.8V</tspan></text><text class="t" font-size="16.57" x="740.7" y="793.6" textLength="16.6" lengthAdjust="spacingAndGlyphs"><tspan>Q</tspan><tspan font-size="11.93" dy="1.4">8</tspan></text><text class="b" font-size="22.43" x="710.8" y="818.7" textLength="75.2" lengthAdjust="spacingAndGlyphs"><tspan>2SC1451</tspan></text><text class="t" font-size="15.57" x="636.5" y="1079.6" textLength="53.2" lengthAdjust="spacingAndGlyphs"><tspan>C</tspan><tspan font-size="11.21" dy="1.4">16</tspan><tspan dy="-1.4">  12P</tspan></text><text class="b" font-size="19.14" x="594.4" y="1157.4" textLength="54.3" lengthAdjust="spacingAndGlyphs"><tspan>-41.4V</tspan></text><text class="t" font-size="15.86" x="649.8" y="1179.6" textLength="16.6" lengthAdjust="spacingAndGlyphs"><tspan>Q</tspan><tspan font-size="11.42" dy="1.4">6</tspan></text><text class="b" font-size="22.29" x="623" y="1202.9" textLength="69" lengthAdjust="spacingAndGlyphs"><tspan>2SC869</tspan></text><text class="b" font-size="20.43" x="769.5" y="1124" textLength="36.5" lengthAdjust="spacingAndGlyphs"><tspan>-28V</tspan></text><text class="t" font-size="17.14" x="791.7" y="1150.6" textLength="59.9" lengthAdjust="spacingAndGlyphs"><tspan>R</tspan><tspan font-size="12.34" dy="1.4">38</tspan><tspan dy="-1.4"> 4.7K</tspan></text><text class="b" font-size="15.86" x="840" y="876.4" textLength="44.3" lengthAdjust="spacingAndGlyphs"><tspan>+1.2V</tspan></text><text class="t" font-size="17.29" x="883" y="828.6" textLength="60" lengthAdjust="spacingAndGlyphs"><tspan>C</tspan><tspan font-size="12.45" dy="1.4">20</tspan><tspan dy="-1.4">  82P</tspan></text><text class="t" font-size="15.43" x="1004" y="809.6" textLength="23.3" lengthAdjust="spacingAndGlyphs"><tspan>Q</tspan><tspan font-size="11.11" dy="1.4">10</tspan></text><text class="b" font-size="20.57" x="980.8" y="832" textLength="66.5" lengthAdjust="spacingAndGlyphs"><tspan>2SD358</tspan></text><text class="t" font-size="13.71" x="974" y="870.6" textLength="24.5" lengthAdjust="spacingAndGlyphs"><tspan>R</tspan><tspan font-size="9.87" dy="1.4">44</tspan></text><text class="t" font-size="17.86" x="968.6" y="887.5" textLength="47.4" lengthAdjust="spacingAndGlyphs"><tspan>4.7  1W</tspan></text><text class="t" font-size="17.86" x="1045" y="867.5" textLength="17.8" lengthAdjust="spacingAndGlyphs"><tspan>32</tspan></text><text class="t" font-size="17.14" x="1044" y="915" textLength="17.7" lengthAdjust="spacingAndGlyphs"><tspan>30</tspan></text><text class="t" font-size="17.57" x="1046" y="937.3" textLength="16.8" lengthAdjust="spacingAndGlyphs"><tspan>31</tspan></text><text class="t" font-size="13.86" x="966" y="970.3" textLength="23.6" lengthAdjust="spacingAndGlyphs"><tspan>R</tspan><tspan font-size="9.98" dy="1.4">46</tspan></text><text class="t" font-size="17.43" x="966" y="1001.6" textLength="33.6" lengthAdjust="spacingAndGlyphs"><tspan>5.6K</tspan></text><text class="t" font-size="18.57" x="1295" y="758.4" textLength="15" lengthAdjust="spacingAndGlyphs"><tspan>14</tspan></text><text class="b" font-size="17.14" x="1295" y="779" textLength="41" lengthAdjust="spacingAndGlyphs"><tspan>+45V</tspan></text><text class="t" font-size="17" x="1288.5" y="798.5" textLength="56.3" lengthAdjust="spacingAndGlyphs"><tspan>(-36V)</tspan></text><text class="t" font-size="15.14" x="1196.4" y="880.6" textLength="22.6" lengthAdjust="spacingAndGlyphs"><tspan>Q</tspan><tspan font-size="10.9" dy="1.4">14</tspan></text><text class="b" font-size="21.71" x="1165" y="904.6" textLength="81" lengthAdjust="spacingAndGlyphs"><tspan>2SC1079</tspan></text><text class="t" font-size="18.57" x="1295" y="952" textLength="16" lengthAdjust="spacingAndGlyphs"><tspan>26</tspan></text><text class="t" font-size="15.14" x="1191" y="961.6" textLength="72.6" lengthAdjust="spacingAndGlyphs"><tspan>L</tspan><tspan font-size="10.9" dy="1.4">2</tspan><tspan dy="-1.4">  2.2 μH</tspan></text><text class="b" font-size="15.71" x="1257" y="1001" textLength="19.5" lengthAdjust="spacingAndGlyphs"><tspan>0V</tspan></text><text class="t" font-size="17.86" x="1295" y="1012" textLength="16" lengthAdjust="spacingAndGlyphs"><tspan>22</tspan></text><text class="t" font-size="15.14" x="1211.6" y="1027.6" textLength="23.8" lengthAdjust="spacingAndGlyphs"><tspan>R</tspan><tspan font-size="10.9" dy="1.4">54</tspan></text><text class="t" font-size="18.57" x="1203" y="1045" textLength="43" lengthAdjust="spacingAndGlyphs"><tspan>10  2W</tspan></text><text class="t" font-size="18.57" x="1295" y="1035" textLength="16" lengthAdjust="spacingAndGlyphs"><tspan>23</tspan></text><text class="t" font-size="18.57" x="1295" y="1068" textLength="16" lengthAdjust="spacingAndGlyphs"><tspan>25</tspan></text><text class="b" font-size="18.57" x="860" y="1125" textLength="35.4" lengthAdjust="spacingAndGlyphs"><tspan>-1.2V</tspan></text><text class="t" font-size="15.14" x="978.6" y="1083.6" textLength="25.4" lengthAdjust="spacingAndGlyphs"><tspan>R</tspan><tspan font-size="10.9" dy="1.4">48</tspan></text><text class="t" font-size="19.14" x="964" y="1101" textLength="50" lengthAdjust="spacingAndGlyphs"><tspan>4.7  1W</tspan></text><text class="t" font-size="18.57" x="1045" y="1087" textLength="17" lengthAdjust="spacingAndGlyphs"><tspan>28</tspan></text><text class="t" font-size="18.57" x="1046" y="1127" textLength="16.8" lengthAdjust="spacingAndGlyphs"><tspan>27</tspan></text><text class="t" font-size="18.57" x="1045" y="1158" textLength="17.8" lengthAdjust="spacingAndGlyphs"><tspan>29</tspan></text><text class="t" font-size="17.29" x="889.9" y="1193.6" textLength="53.1" lengthAdjust="spacingAndGlyphs"><tspan>C</tspan><tspan font-size="12.45" dy="1.4">22</tspan><tspan dy="-1.4"> 82P</tspan></text><text class="t" font-size="14.14" x="990.7" y="1170.6" textLength="23.3" lengthAdjust="spacingAndGlyphs"><tspan>Q</tspan><tspan font-size="10.18" dy="1.4">12</tspan></text><text class="b" font-size="22.29" x="967.5" y="1193" textLength="69.8" lengthAdjust="spacingAndGlyphs"><tspan>2SB528</tspan></text><text class="t" font-size="16.86" x="1116" y="1169.6" textLength="22" lengthAdjust="spacingAndGlyphs"><tspan>Q</tspan><tspan font-size="12.14" dy="1.4">16</tspan></text><text class="b" font-size="21.57" x="1085" y="1193.5" textLength="73.5" lengthAdjust="spacingAndGlyphs"><tspan>2SA679</tspan></text><text class="t" font-size="18.57" x="1298" y="1246.6" textLength="17.5" lengthAdjust="spacingAndGlyphs"><tspan>24</tspan></text><text class="b" font-size="18.57" x="1295" y="1264" textLength="39" lengthAdjust="spacingAndGlyphs"><tspan>-45V</tspan></text><text class="t" font-size="20.14" x="1287.2" y="1286.4" textLength="56.4" lengthAdjust="spacingAndGlyphs"><tspan>(-36V)</tspan></text><text class="t" font-size="18.71" x="1294.6" y="1364.4" textLength="19.4" lengthAdjust="spacingAndGlyphs"><tspan>40</tspan></text><text class="t" font-size="17.14" transform="translate(165,875.2) rotate(-90)" textLength="55.5" lengthAdjust="spacingAndGlyphs"><tspan>R</tspan><tspan font-size="12.34" dy="2.4">8</tspan><tspan dy="-2.4"> 56K</tspan></text><text class="t" font-size="15.71" transform="translate(206,978.3) rotate(-90)" textLength="58.8" lengthAdjust="spacingAndGlyphs"><tspan>R</tspan><tspan font-size="11.31" dy="2.4">10</tspan><tspan dy="-2.4"> 33K</tspan></text><text class="t" font-size="17.29" transform="translate(405.1,855) rotate(-90)" textLength="63" lengthAdjust="spacingAndGlyphs"><tspan>R</tspan><tspan font-size="12.45" dy="2.4">22</tspan><tspan dy="-2.4"> 110K</tspan></text><text class="t" font-size="16.86" transform="translate(579.6,841) rotate(-90)" textLength="60" lengthAdjust="spacingAndGlyphs"><tspan>R</tspan><tspan font-size="12.14" dy="2.4">32</tspan><tspan dy="-2.4"> 47K</tspan></text><text class="t" font-size="18.57" transform="translate(613,979.5) rotate(-90)" textLength="84.3" lengthAdjust="spacingAndGlyphs"><tspan>C</tspan><tspan font-size="13.37" dy="2.4">14</tspan><tspan dy="-2.4">  3.3/50</tspan></text><text class="t" font-size="15.86" transform="translate(94.1,1070.9) rotate(-90)" textLength="55.5" lengthAdjust="spacingAndGlyphs"><tspan>R</tspan><tspan font-size="11.42" dy="2.4">2</tspan><tspan dy="-2.4"> 100K</tspan></text><text class="t" font-size="15.86" transform="translate(94.1,1186) rotate(-90)" textLength="57.5" lengthAdjust="spacingAndGlyphs"><tspan>R</tspan><tspan font-size="11.42" dy="2.4">4</tspan><tspan dy="-2.4"> 3.3K</tspan></text><text class="t" font-size="17.14" transform="translate(219.3,1180) rotate(-90)" textLength="30.4" lengthAdjust="spacingAndGlyphs"><tspan>VR</tspan><tspan font-size="12.34" dy="2.4">1</tspan></text><text class="t" font-size="20.71" transform="translate(239.5,1187.3) rotate(-90)" textLength="37.7" lengthAdjust="spacingAndGlyphs"><tspan>10KB</tspan></text><text class="t" font-size="15.57" transform="translate(269.2,1148.5) rotate(-90)" textLength="13.5" lengthAdjust="spacingAndGlyphs"><tspan>C</tspan><tspan font-size="11.21" dy="2.4">4</tspan></text><text class="t" font-size="22.43" transform="translate(307.7,1161.8) rotate(-90)" textLength="43.2" lengthAdjust="spacingAndGlyphs"><tspan>33/16</tspan></text><text class="t" font-size="16.57" transform="translate(145.6,1236) rotate(-90)" textLength="26" lengthAdjust="spacingAndGlyphs"><tspan>R</tspan><tspan font-size="11.93" dy="2.4">16</tspan></text><text class="t" font-size="20.43" transform="translate(166.3,1241) rotate(-90)" textLength="32.2" lengthAdjust="spacingAndGlyphs"><tspan>82K</tspan></text><text class="t" font-size="18.71" transform="translate(306.4,1090.9) rotate(-90)" textLength="64.3" lengthAdjust="spacingAndGlyphs"><tspan>R</tspan><tspan font-size="13.47" dy="2.4">20</tspan><tspan dy="-2.4"> 100K</tspan></text><text class="t" font-size="22" transform="translate(367.4,1102) rotate(-90)" textLength="64.3" lengthAdjust="spacingAndGlyphs"><tspan>C</tspan><tspan font-size="15.84" dy="2.4">10</tspan><tspan dy="-2.4">  100P</tspan></text><text class="t" font-size="18.86" transform="translate(387.4,1221.7) rotate(-90)" textLength="68.7" lengthAdjust="spacingAndGlyphs"><tspan>R</tspan><tspan font-size="13.58" dy="2.4">24</tspan><tspan dy="-2.4">  4.7K</tspan></text><text class="t" font-size="20.29" transform="translate(497.1,1042) rotate(-90)" textLength="23.2" lengthAdjust="spacingAndGlyphs"><tspan>R</tspan><tspan font-size="14.61" dy="2.4">26</tspan></text><text class="t" font-size="18.57" transform="translate(529.5,1044.5) rotate(-90)" textLength="19" lengthAdjust="spacingAndGlyphs"><tspan>1K</tspan></text><text class="t" font-size="17.29" transform="translate(475.1,1099) rotate(-90)" textLength="23" lengthAdjust="spacingAndGlyphs"><tspan>C</tspan><tspan font-size="12.45" dy="2.4">12</tspan></text><text class="t" font-size="20.29" transform="translate(496.2,1107.5) rotate(-90)" textLength="47.7" lengthAdjust="spacingAndGlyphs"><tspan>330/10</tspan></text><text class="t" font-size="18.71" transform="translate(736.1,1105.3) rotate(-90)" textLength="82" lengthAdjust="spacingAndGlyphs"><tspan>C</tspan><tspan font-size="13.47" dy="2.4">18</tspan><tspan dy="-2.4">  100/50</tspan></text><text class="t" font-size="17.29" transform="translate(794.9,1063.2) rotate(-90)" textLength="18.9" lengthAdjust="spacingAndGlyphs"><tspan>D</tspan><tspan font-size="12.45" dy="2.4">4</tspan></text><text class="b" font-size="23.71" transform="translate(817.2,1089.8) rotate(-90)" textLength="64.3" lengthAdjust="spacingAndGlyphs"><tspan>1S2473</tspan></text><text class="t" font-size="18.71" transform="translate(790.4,1220.6) rotate(-90)" textLength="61" lengthAdjust="spacingAndGlyphs"><tspan>R</tspan><tspan font-size="13.47" dy="2.4">36</tspan><tspan dy="-2.4"> 2.7K</tspan></text><text class="t" font-size="20.29" transform="translate(815.9,949.5) rotate(-90)" textLength="18.8" lengthAdjust="spacingAndGlyphs"><tspan>D</tspan><tspan font-size="14.61" dy="2.4">6</tspan></text><text class="b" font-size="25.29" transform="translate(842.7,978.4) rotate(-90)" textLength="75.4" lengthAdjust="spacingAndGlyphs"><tspan>STV-4H</tspan></text><text class="t" font-size="17.43" transform="translate(885.2,1097.5) rotate(-90)" textLength="72" lengthAdjust="spacingAndGlyphs"><tspan>VR</tspan><tspan font-size="12.55" dy="2.4">4</tspan><tspan dy="-2.4"> 100 B</tspan></text><text class="t" font-size="17" transform="translate(920.6,952.9) rotate(-90)" textLength="26.9" lengthAdjust="spacingAndGlyphs"><tspan>R</tspan><tspan font-size="12.24" dy="2.4">40</tspan></text><text class="t" font-size="22.14" transform="translate(945.3,961.7) rotate(-90)" textLength="48.7" lengthAdjust="spacingAndGlyphs"><tspan>150½W</tspan></text><text class="t" font-size="22" transform="translate(1005,950.6) rotate(-90)" textLength="24.6" lengthAdjust="spacingAndGlyphs"><tspan>C</tspan><tspan font-size="15.84" dy="2.4">24</tspan></text><text class="t" font-size="20.43" transform="translate(1025,968.4) rotate(-90)" textLength="46.6" lengthAdjust="spacingAndGlyphs"><tspan>0.082</tspan></text><text class="t" font-size="16.57" transform="translate(1093.3,981.4) rotate(-90)" textLength="20.5" lengthAdjust="spacingAndGlyphs"><tspan>R</tspan><tspan font-size="11.93" dy="2.4">50</tspan></text><text class="t" font-size="20" transform="translate(1113,999.9) rotate(-90)" textLength="46.6" lengthAdjust="spacingAndGlyphs"><tspan>0.5  5W</tspan></text><text class="t" font-size="18.71" transform="translate(927.4,1063.2) rotate(-90)" textLength="26.6" lengthAdjust="spacingAndGlyphs"><tspan>R</tspan><tspan font-size="13.47" dy="2.4">42</tspan></text><text class="t" font-size="20.57" transform="translate(946.4,1074.3) rotate(-90)" textLength="55.5" lengthAdjust="spacingAndGlyphs"><tspan>150 ½W</tspan></text><text class="t" font-size="16.57" transform="translate(1093.3,1042) rotate(-90)" textLength="23" lengthAdjust="spacingAndGlyphs"><tspan>R</tspan><tspan font-size="11.93" dy="2.4">52</tspan></text><text class="t" font-size="21.43" transform="translate(1114,1057) rotate(-90)" textLength="46.4" lengthAdjust="spacingAndGlyphs"><tspan>0.5  5W</tspan></text><text class="t" font-size="13.57" transform="translate(1211.3,1113.4) rotate(-90)" textLength="22.7" lengthAdjust="spacingAndGlyphs"><tspan>C</tspan><tspan font-size="9.77" dy="2.4">26</tspan></text><text class="t" font-size="20.29" transform="translate(1233.2,1125.3) rotate(-90)" textLength="44.3" lengthAdjust="spacingAndGlyphs"><tspan>0.056</tspan></text><text class="t" font-size="15.14" transform="translate(1209.2,1180.6) rotate(-90)" textLength="21.6" lengthAdjust="spacingAndGlyphs"><tspan>R</tspan><tspan font-size="10.9" dy="2.4">56</tspan></text><text class="t" font-size="21.43" transform="translate(1231,1189) rotate(-90)" textLength="40" lengthAdjust="spacingAndGlyphs"><tspan>10  1W</tspan></text></g></svg></body></html>
